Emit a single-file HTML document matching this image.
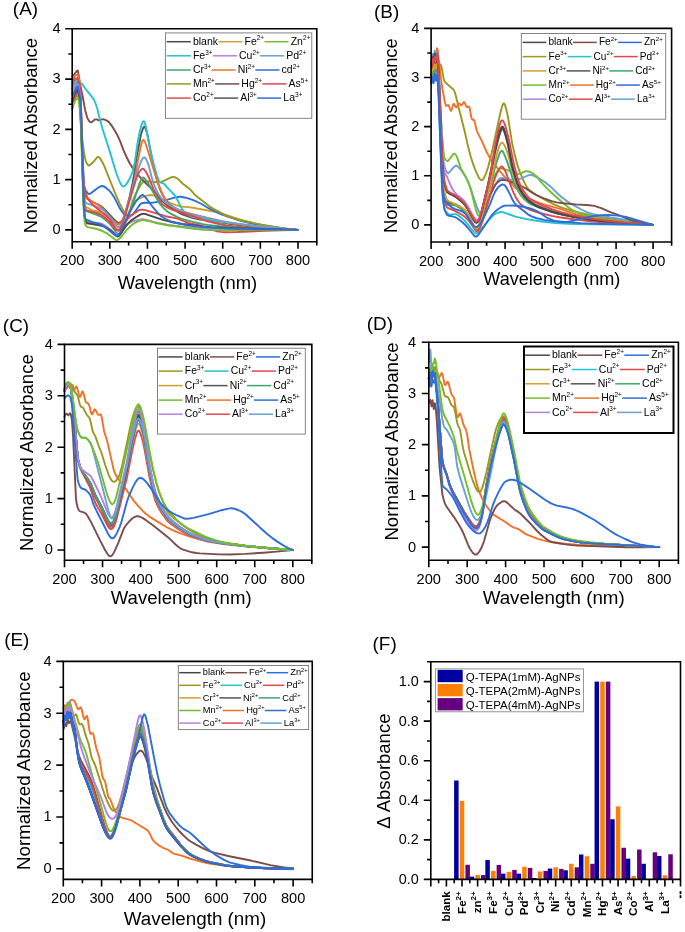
<!DOCTYPE html><html><head><meta charset="utf-8"><style>html,body{margin:0;padding:0;background:#fff;}svg{display:block;will-change:transform}</style></head><body>
<svg width="685" height="932" viewBox="0 0 685 932" style="font-family:&quot;Liberation Sans&quot;,sans-serif" fill="#000">
<rect width="685" height="932" fill="#fff"/>
<g fill="none" stroke-width="1.9" stroke-linejoin="round" stroke-linecap="round"><path d="M72.2,104.2l1.5-4 1.3-2.7 1.2-1.4 1.5-1 .5 .8 .6 2 1.1 7.2 .4 3.9 .6 12.2 2.4 72.8 .4 5.7 .5 3.5 .6 2.1 .4 .8 1.1 .9 5.1 2.8 1.9 .7 4.1 .9 3.6 1.1 2.8 1.2 2.3 1.2 2.6 2.2 6.6 6.9 2.2 1.9 1.5 .5 1.4-.3 1.5-1.1 1.3-1.5 3.9-6.9 5.9-11.7 1.3-2.2 1.3-1.6 2.6-2 3.1-1.5 6.3-2.2 2.9-.4 2 .3 2.7 .8 5.6 2.4 9 4.3 6.1 2.3 3.9 1.1 3.2 .6 5.9 .3 3.7 .6 22.4 4.1 7.2 1.9 22.2 7.2 13.3 3.2 8.3 1.5 14.9 2.3 9.2 1.2 7.9 .8" stroke="#d3a02d"/>
<path d="M72.2,89.1l1.5-5 1.1-2.9 1.4-2 1.5-1.2 .5 .6 .6 1.9 1.1 7 .4 3.9 .4 7.9 2.8 82.4 .7 9.1 .6 4 .4 1.6 1.1 1.5 1 .8 5.6 3.3 6.2 3 3 2 2.8 2.6 10 10.7 2.5 2.1 1.1 .5 1.1-.1 1.1-.6 1.2-1.2 .9-1.5 1-2.1 2-6.5 3.8-14.2 3-13.8 1.5-8.3 3.6-23 2.8-14.6 .9-3.9 1.4-4.1 .7-1.6 .4-.5 .4-.1 .5 .4 .8 1.4 1.5 4.6 1.1 5.2 2.8 15.2 4.2 19.5 2 7.8 3.1 9 2.2 4.8 2.8 4.5 2.3 3.1 2.2 2.3 6.6 5 2.5 1.5 2.2 1.1 5.3 2.1 4.3 1.5 12.3 3.1 10.9 2 15.2 2.3 24.7 3 25.4 2.4 18.8 1.3" stroke="#555555"/>
<path d="M72.2,94.2l1.3-4.5 1.1-3.1 1.2-2.1 1.1-1.4 .8-.6 .3 .4 .6 1.5 .6 2.8 .9 7 .6 9.2 2.8 76.6 .7 5.7 1 3.7 .5 1.1 2.1 2.7 .8 .7 .7 .2 1.2-.6 7.9-5.9 1.8-1.1 1.9-.5 1 .2 1.1 .4 1.9 1.3 2.6 2.2 1.5 1.6 1.7 2.1 3 4.8 4.9 9.7 2.6 4 1.2 1.2 1.1 .9 1.3 .6 1.5 .4 1.5 .1 1.3-.1 1.5-.4 1-.7 3-3.8 3.8-5.5 1.1-1.2 .9-.5 3-.5 6.2 0 2.5-.2 12.4-2.4 10.5-3 2.9-.4 2 0 4.4 .9 4.9 1.4 3.5 1.3 6.8 3.1 8.7 5.2 8.6 4.2 4 1.6 7.3 2.7 11.3 3.6 11.5 2.7 12.4 2.4 20.3 2.8 13.2 1.2" stroke="#2d6fd9"/>
<path d="M72.2,101.7l3.8-13.5 .5-1.3 .4-.3 .6 1.4 .7 4.9 1 8.1 1.8 26.2 1.7 16.8 2.1 13.1 .8 3.4 .5 1.5 1.7 2.9 .6 .6 .5 .1 1.7-1.1 2.7-2.5 3-3.7 1.1-1.1 .6-.3 .5 .1 .6 .3 .8 .7 2.6 4.4 1.7 3.4 10.7 26.9 4.5 10.4 4 7.6 1.5 2.2 1.3 1.3 .8 .2 .7-.2 .6-.6 .7-1.1 1.3-3.4 2.5-8.2 2.2-5.5 1.9-3.8 3.8-6.5 1.1-1.7 1.1-1.3 1-.5 3.4-.1 4.5 .2 6 .5 2.3-.1 2.6-.8 8.5-4 1.3-.4 .9-.1 2.1 .7 2.8 1.7 4.3 4.3 7.4 5.7 4.3 4.9 1.7 1.6 13 10.4 4.5 2.8 9.8 5.3 4.3 2.1 4.5 1.6 6.6 1.9 23.2 5 20.5 3.3 15.6 1.8" stroke="#999920"/>
<path d="M72.2,76.6l2.4-2.8 2.3-2.9 .8-.4 .3 .6 1.7 10.5 3.4 17.1 1.9 10.7 2.1 7.9 .7 1.7 1.3 1.9 1 1.1 .9 .4 1-.5 2.2-1.9 1.1-.6 1.2 0 2 .8 1 .1 2.6-.9 1.1-.1 1.5 .3 2.1 1 1.1 .7 1.4 1.2 3 4.1 4.7 7.8 3.2 7 3.7 9.8 2.9 6.3 3 6 2.6 4.1 3.6 4.7 3.9 4.7 4.9 5.2 10.4 10.2 7.9 9.4 2.4 2.3 3.8 2.8 5.8 3.6 6 3.3 3 1.4 8.1 2.6 6.8 1.6 3.6 .5 7.7 .5 19 3.3 22.6 2.9 27.1 2.3 19 1" stroke="#7d4d49"/>
<path d="M72.2,91.7l2.4-5.5 1.7-4.7 .6-.8 .6 0 2 1.8 2.1 .9 .9 .8 3.4 5.2 6.2 7.7 1.9 2.8 1.5 3.4 1.9 5.7 2.6 10.8 2.5 8.9 7.3 22.9 6.2 20.6 2.1 5.8 1.9 4.5 1.3 2.3 1.3 1.4 1 .3 .9-.4 1.1-.9 1.2-1.5 3.4-6.2 2.4-5.9 1.9-7.3 3.2-22.3 2-10.2 1.4-5.4 .9-3 .9-1.8 .4-.3 .4-.1 .6 .5 .3 .8 1.2 3.9 3.5 19.3 4.2 17.9 3.4 11.9 1.7 4.6 .7 1.3 1 .9 2.8 1 1.1 .7 5.3 5.9 4.5 4.6 1.5 2.1 1.7 2.9 4.9 9.8 2.6 2.9 2.6 2.2 3.1 1.6 7.5 2 13.5 2.6 9.1 1.5 26.7 3 50.8 4.8" stroke="#23c5cc"/>
<path d="M72.2,81.6l1.5-3.4 1.3-2.2 1.2-.9 1.5-.5 .5 .9 .6 2.2 1.3 8.9 .9 19.5 2.5 75.6 .7 8.4 1 5.1 .9 2.3 .6 .9 11.8 6.9 3.4 2.5 1.9 1.9 4.5 5.4 3 3.3 3.4 3.4 2.3 1.8 1.1 .5 1.1 .1 1.2-.5 .9-.8 1.7-2.7 1.9-5 6-19.6 1.9-7 1.5-7.3 3.2-19 3-14.8 1.5-5.7 .8-1.5 .5-.4 .4 .2 .6 .6 1.3 3 3.2 9.8 5.1 17 3 9.3 2.2 6.4 3.6 8.7 1.9 3.6 3.7 4.9 2.1 1.9 4 2.4 3.2 1.7 2.8 1.3 7.3 2.2 16 4 17.7 4.2 7.3 1.5 14.5 2.3 13.8 1.6 25 2.4 16 1" stroke="#f17226"/>
<path d="M72.2,86.6l1.5-3.3 1.3-2.3 1.2-1.1 1.5-.8 .5 .9 .6 2.3 1.3 9.4 .9 19.5 2.5 75.3 .7 9.6 .6 4.3 .4 1.5 .9 1.1 1 .7 5 1.5 5.3 1.9 3.6 1.7 2.1 1.3 2.8 2.6 3.7 4.3 2.9 3.5 3.7 5.4 1.5 1.4 1.2 .4 1.1-.7 1.1-1.6 1.3-3 3.2-9.8 7.9-28.5 3.6-11.8 2.8-7.9 1.5-3.6 1.5-2.6 .8-.7 .6-.1 .7 .3 .8 1 1.8 3.8 1.4 4.1 2.8 11.2 1.1 3.8 3.2 8.1 2.5 4.7 3.5 4.9 2.9 2.8 5.8 3.6 8.3 4.1 5.2 2.3 7.6 2.2 20.5 5 9.8 2 15.6 2.3 16.3 2.1 26.4 2.8 17.5 1.4" stroke="#6b9fd6"/>
<path d="M72.2,109.3l2.6-10.7 1.4-4 1.3-2.9 .3-.4 .6 .8 .9 4.2 .8 5.4 .6 8.7 2.8 72.3 .4 3.1 .5 2.7 2.5 7.8 2.2 4.1 2.9 3.6 2.4 2.2 10.5 8.5 4.2 3.9 2.2 3 4.2 6.7 .9 1.1 1 .7 1.1 .1 .9-.6 1.2-1.5 1.3-2.7 2.2-6.6 9.1-30.6 3.5-10.7 1.5-3.7 1.4-2.3 1.7-2.1 .7-.5 .6-.2 .9 .3 1.1 1.1 1.4 1.9 1.6 3 1.4 2.8 4.1 10.6 4.5 9.1 2.7 4.4 1.6 2 2.5 1.8 3.6 2.2 3.5 1.6 3.4 1.1 11.1 3 15.6 5.8 5.9 1.9 10.7 2.5 9.8 1.9 9 1.1 20.9 1.6 24.5 1.1 15.6 .4" stroke="#e4474a"/>
<path d="M72.2,94.2l1.5-4 1.3-2.7 1.3-1.6 1.4-.8 .5 1.3 .6 2.7 1.3 10.1 .6 8.9 .5 14.5 2.3 74 .7 8.9 .8 4.6 .4 .7 12.2 4.4 3.8 1.7 2.4 1.5 3 2.5 3 2.9 1.9 2.4 4 5.6 1.1 1.3 1.1 .9 1.3 .3 1.4-.6 1.3-1.6 1.3-2.6 11.1-29.8 4.9-15.7 2.4-5.2 .8-.9 .7-.4 .8 .3 .9 .8 2.7 3.5 2.2 3.8 8.9 16 1.5 2.2 3 3.5 3.4 3.2 3.3 2.4 7.2 3.6 5.6 2.3 11.9 3.2 8.3 1.8 4.7 .8 17.3 1.8 13.3 1 25.6 1.2 18.9 .7 15.4 .3" stroke="#3ba96b"/>
<path d="M72.2,84.1l1.5-3.5 1.1-1.7 .6-.4 .6-.1 1.7 .3 .5 .9 .6 1.9 1.3 7.6 .4 5.3 .5 14.7 2.5 82.1 .7 10.6 .6 4.8 .4 1.8 1.1 1.5 .8 .7 4.9 1 4.7 1.4 3.7 1.5 2.3 1.2 2.4 2 4.4 4.3 5.2 6.4 1.9 1.8 .9 .4 1 .1 .9-.4 1.2-1 1.6-2.1 4.4-7 2-2.3 2.7-2.4 2-1.6 4.9-3.2 1.7-.8 1.5-.3 2.7 .3 3 .7 18.4 5.6 11.3 2.2 2.6 .9 6.3 2.7 2.6 1 2.8 .7 8.5 1.5 2.6 .9 8.3 3.5 6 1.6 4.2 .7 3.5 .3 13.2-.2 26.7-1.1 33.9-1" stroke="#e4474a"/>
<path d="M72.2,94.2l1.5-5.2 1.1-2.7 1.2-1.5 .9-.5 .8-.1 .5 1.1 .6 2.4 1.3 9 .6 9 .5 15.3 2.5 83.8 .7 9.6 .6 4.2 .4 1.2 1.5 1.9 12 1.6 2.5 .5 1.5 .5 2.4 1.4 3.8 2.7 6.2 5.3 1.1 .6 1.1 .3 1.4-.3 1.3-1 1.7-1.9 3.9-5.4 1.5-1.5 1.9-1.3 2.3-1.3 2.2-.9 5.3-1.4 3-.3 3.4 .4 9 2.5 14.9 3.1 13 1.5 13.3 1.2 21.5 .8 33.8 .9 24.7 .3 22.4-.1" stroke="#b680e1"/>
<path d="M72.2,101.7l1.3-4.4 1.3-3.6 1.4-2.2 1.5-1.4 .5 .8 .6 2.1 1.3 8.7 .9 19.2 2.7 81.4 .7 10.7 .6 5.2 .4 1.6 .5 1.4 1.2 2.1 13.9 2.2 2.6 .8 2.8 1.5 4 2.5 2.6 2.3 3 3.2 .8 .5 .7 .2 1.2-.4 1.3-1.3 5.8-8.6 2.3-2.8 2.1-2.1 2.6-2.1 6.6-4.1 1.9-.9 1.6-.4 1.5 .1 1.9 .4 15.8 5.4 7.9 2 12.3 2.3 18 2.3 10.6 .8 23.1 1 40.5 1.3 23.5 .5" stroke="#474747"/>
<path d="M72.2,106.7l2.8-5.6 1.3-1.8 1.4-1.2 .5 .7 .6 1.9 1.1 7 .4 3.7 .6 12.7 2.2 72.4 .6 13.3 .7 9.5 .6 4.4 .4 1.2 1.3 1.5 .9 .7 8.5 1.7 3.8 1.2 3.2 1.3 3.7 2 7.5 5.8 1.4 .7 1.1 .3 1.3-.4 1.7-1.4 2.1-2.3 5.2-6.5 2.9-2.8 2.6-2.3 1.9-1.2 4.3-2 2.3-.8 2-.3 1.5 .1 2.9 .5 10.7 2.8 10.3 1.8 25.2 3.5 10.2 1.1 6 .2 88.1-.2" stroke="#72bf2b"/>
<path d="M72.2,99.2l1.5-4.9 1.3-3.6 1.3-2.5 1.4-1.7 .5 1 .6 2.4 1.3 9.3 .6 8.5 .7 20 2.3 77.1 .7 9.1 .6 4 .4 .9 1.1 .7 6 2.6 6.6 1.8 2.8 1.1 4 2.7 8.8 7.3 1.5 .7 1.2-.2 .7-.5 .9-1 1.7-2.7 8.9-18.6 2.4-4.7 2.7-4.5 2.2-3.4 2.8-3.3 1.6-1.4 1.3-.4 1.1 .4 1.3 1.2 8.3 11.1 5.1 5.9 3 2.9 4.3 2.5 4.7 2.1 3.4 1.2 7.3 1.7 6.4 1.2 13 1.6 6.2 .5 14.5 .8 15.1 .6 19.3 .5 42.4 .7" stroke="#2d6fd9"/></g>
<path d="M72.20,28.82H316.80V241.80H72.20Z" fill="none" stroke="#000" stroke-width="1.6" stroke-linejoin="miter"/>
<path d="M72.20,241.80v7.0M91.02,241.80v3.8M109.83,241.80v7.0M128.65,241.80v3.8M147.46,241.80v7.0M166.28,241.80v3.8M185.09,241.80v7.0M203.91,241.80v3.8M222.72,241.80v7.0M241.54,241.80v3.8M260.35,241.80v7.0M279.17,241.80v3.8M297.98,241.80v7.0M316.80,241.80v3.8M72.20,229.90h-7.0M72.20,204.77h-3.8M72.20,179.63h-7.0M72.20,154.50h-3.8M72.20,129.36h-7.0M72.20,104.22h-3.8M72.20,79.09h-7.0M72.20,53.95h-3.8M72.20,28.82h-7.0" stroke="#000" stroke-width="1.6" fill="none"/>
<text x="72.20" y="265.40" text-anchor="middle" font-size="14.6">200</text>
<text x="109.83" y="265.40" text-anchor="middle" font-size="14.6">300</text>
<text x="147.46" y="265.40" text-anchor="middle" font-size="14.6">400</text>
<text x="185.09" y="265.40" text-anchor="middle" font-size="14.6">500</text>
<text x="222.72" y="265.40" text-anchor="middle" font-size="14.6">600</text>
<text x="260.35" y="265.40" text-anchor="middle" font-size="14.6">700</text>
<text x="297.98" y="265.40" text-anchor="middle" font-size="14.6">800</text>
<text x="60.50" y="234.30" text-anchor="end" font-size="14.6">0</text>
<text x="60.50" y="184.03" text-anchor="end" font-size="14.6">1</text>
<text x="60.50" y="133.76" text-anchor="end" font-size="14.6">2</text>
<text x="60.50" y="83.49" text-anchor="end" font-size="14.6">3</text>
<text x="60.50" y="33.22" text-anchor="end" font-size="14.6">4</text>
<text x="187.50" y="288.70" text-anchor="middle" font-size="18.4">Wavelength (nm)</text>
<text transform="translate(37.10,135.60) rotate(-90)" text-anchor="middle" font-size="18.4">Normalized Absorbance</text>
<text x="12.85" y="14.6" font-size="18.9">(A)</text>
<rect x="165.40" y="32.90" width="146.40" height="85.40" fill="#fff" stroke="#777" stroke-width="0.9"/>
<line x1="166.70" y1="41.70" x2="190.80" y2="41.70" stroke="#474747" stroke-width="1.5"/>
<text x="192.90" y="44.85" font-size="10.5">blank</text>
<line x1="218.35" y1="41.70" x2="242.45" y2="41.70" stroke="#d3a02d" stroke-width="1.5"/>
<text x="244.55" y="44.85" font-size="10.5">Fe</text>
<text x="256.81" y="40.44" font-size="6.41">2+</text>
<line x1="264.46" y1="41.70" x2="288.56" y2="41.70" stroke="#72bf2b" stroke-width="1.5"/>
<text x="290.66" y="44.85" font-size="10.5">Zn</text>
<text x="302.91" y="40.44" font-size="6.41">2+</text>
<line x1="166.70" y1="55.80" x2="190.80" y2="55.80" stroke="#23c5cc" stroke-width="1.5"/>
<text x="192.90" y="58.95" font-size="10.5">Fe</text>
<text x="205.15" y="54.54" font-size="6.41">3+</text>
<line x1="212.81" y1="55.80" x2="236.91" y2="55.80" stroke="#b680e1" stroke-width="1.5"/>
<text x="239.01" y="58.95" font-size="10.5">Cu</text>
<text x="252.43" y="54.54" font-size="6.41">2+</text>
<line x1="260.08" y1="55.80" x2="284.18" y2="55.80" stroke="#6b9fd6" stroke-width="1.5"/>
<text x="286.28" y="58.95" font-size="10.5">Pd</text>
<text x="299.12" y="54.54" font-size="6.41">2+</text>
<line x1="166.70" y1="70.00" x2="190.80" y2="70.00" stroke="#3ba96b" stroke-width="1.5"/>
<text x="192.90" y="73.15" font-size="10.5">Cr</text>
<text x="203.98" y="68.74" font-size="6.41">3+</text>
<line x1="211.63" y1="70.00" x2="235.73" y2="70.00" stroke="#f17226" stroke-width="1.5"/>
<text x="237.83" y="73.15" font-size="10.5">Ni</text>
<text x="247.75" y="68.74" font-size="6.41">2+</text>
<line x1="255.40" y1="70.00" x2="279.50" y2="70.00" stroke="#2d6fd9" stroke-width="1.5"/>
<text x="281.60" y="73.15" font-size="10.5">cd</text>
<text x="292.69" y="68.74" font-size="6.41">2+</text>
<line x1="166.70" y1="83.90" x2="190.80" y2="83.90" stroke="#999920" stroke-width="1.5"/>
<text x="192.90" y="87.05" font-size="10.5">Mn</text>
<text x="207.49" y="82.64" font-size="6.41">2+</text>
<line x1="215.14" y1="83.90" x2="239.24" y2="83.90" stroke="#7d4d49" stroke-width="1.5"/>
<text x="241.34" y="87.05" font-size="10.5">Hg</text>
<text x="254.76" y="82.64" font-size="6.41">2+</text>
<line x1="262.41" y1="83.90" x2="286.51" y2="83.90" stroke="#e4474a" stroke-width="1.5"/>
<text x="288.61" y="87.05" font-size="10.5">As</text>
<text x="300.87" y="82.64" font-size="6.41">5+</text>
<line x1="166.70" y1="98.10" x2="190.80" y2="98.10" stroke="#e4474a" stroke-width="1.5"/>
<text x="192.90" y="101.25" font-size="10.5">Co</text>
<text x="206.32" y="96.84" font-size="6.41">2+</text>
<line x1="213.98" y1="98.10" x2="238.08" y2="98.10" stroke="#555555" stroke-width="1.5"/>
<text x="240.18" y="101.25" font-size="10.5">Al</text>
<text x="249.51" y="96.84" font-size="6.41">3+</text>
<line x1="257.16" y1="98.10" x2="281.26" y2="98.10" stroke="#2d6fd9" stroke-width="1.5"/>
<text x="283.36" y="101.25" font-size="10.5">La</text>
<text x="295.04" y="96.84" font-size="6.41">3+</text>
<g fill="none" stroke-width="1.9" stroke-linejoin="round" stroke-linecap="round"><path d="M431.1,72.6l.2 1.1 .2 .1 1.1-8.4 .2-.2 .7 1.6 .2-.2 1.1-8.4 1.1 3.4 .7-1.7 .4-.3 1.7 3.5 1.8 1.7 .8 1.4 .7 3.2 1.7 9.3 .7 2.3 2.4 2.8 6.3 5.4 1.3 1.8 1.3 4.3 1.9 8 7.4 29.4 3.7 16.4 2 7.5 2.6 8.1 2.6 6.7 2.7 5.8 1.2 1.7 .9 1 .7 .3 .8-.1 .7-.6 .9-1.3 1.9-3.9 2.4-7.1 2.8-10.6 9.6-44.4 1.8-6.4 .9-2 .6-.4 .6 .4 .7 1.5 2 7.4 1.3 6.9 3.7 23.5 3 13 2.6 9.8 2.2 6.5 4.4 10 2.8 5 1.3 1.7 1.1 1.1 4.6 3.4 5 3.1 14.3 7.4 7 3 11.5 3.7 6.8 1.7 10.4 2.4 20.3 3.8 22.4 3.5 21.3 2.7" stroke="#999920"/>
<path d="M431.1,62.8l.4 1.5 1.1-7.7 .2 .1 .7 2 .2 0 .9-3.4 .2-.5 .2 .1 .9 3.4 .9-9.3 .2-.7 .2 .2 .4 1.2 .5 3.5 2.4 22 1.5 10.9 2.6 15 1.1 4.2 .4 .5 .4 .1 1.4-1 .6 .3 .5 1 1.3 3.6 .8 1 .5-.8 1.5-5.3 .6-.9 .5 .4 1.5 2.9 .6 .3 .5-.7 1.3-2.5 .6-.7 .3-.1 .4 .1 1.5 1.6 .5 .2 .6-.4 1.5-2.5 .5-.3 .8 .8 1.4 3.4 .6 .8 .6 0 1.3-.6 .5 .3 .6 1.7 1.4 8.3 .6 2.1 .6 .8 1.2 .1 .6 .5 .7 2.3 1.7 7.4 .8 2.1 4 8.1 5.9 13.1 2.8 5.1 2.1 2.9 7.5 9.7 4.1 4.8 14.1 14.2 2.2 2 4.2 3.2 3.6 2.5 3.3 2 2.8 1.3 3.1 1.2 6.7 2.1 16.2 4.6 16.3 5.4 9.1 2.3 11.1 2.2 19.4 2.8 22.2 2.2 15 1.1" stroke="#f17226"/>
<path d="M431.1,60.3l.4 1.8 1.1-8.1 .2 0 .7 2.8 .2 0 1.1-6.2 1.1 5 .2 0 .9-3.4 .4 1.6 1.3 18.3 3.7 76.7 1.3 13.1 .5 3.3 1.1 4.1 .4 .9 1.5 2.3 .6 .6 .5 .1 1.1-.9 2.6-3.3 2.2-2.2 1.3-.9 .9-.2 .8 .3 .9 .7 3.7 4.2 3.5 5.3 3 5.9 2 5.3 3.9 11.8 2.8 7.8 2 4.9 1.3 1.9 .6 .2 .3-.1 .6-.4 .5-.9 4.1-10.2 3.9-8.1 7.2-12.9 1.3-1.9 1.1-1.1 1.1-.5 1.5 .1 5.6 1.5 1.8 .3 6.5-.4 4.6-.8 6.7-3.1 1.5-.4 1.4-.1 1.9 .3 2.2 .9 8.1 4.5 3.2 2.2 3.7 3 3.3 2.9 4.5 4.8 4.6 3.8 4.4 3.4 3.9 2.6 3.9 2.3 8.1 4.3 5 2.3 4.6 1.6 9.1 1.9 9.6 1.7 19.5 3 22.9 4.4" stroke="#6b9fd6"/>
<path d="M431.1,70.2l.4 1.3 1.1-6.5 .2-.1 .7 1.6 .2-.1 1.1-6.1 1.1 5.2 .4-.9 .7-3.2 .2 .1 .4 1.5 .5 4.7 .6 7.6 1.5 28.5 1.8 30.3 1.5 17.9 .7 5.4 .6 1.1 1.3 1.7 .9 .7 .8 .1 .7-.5 .7-.8 3-4.3 1.3-1.4 .7-.3 .6 .1 1.1 1.1 1.5 3.3 3.7 10.4 5.5 10 2.4 5.4 2.1 6.6 5 20.1 1.3 3.3 .5 1 .7 .7 1 .3 1.1-.7 1.1-1.6 .9-2.1 7-24.4 1.9-5.6 1.3-3.2 2.8-4.9 2-3 1.7-1.6 .9-.4 .7-.1 5.2 1.3 5 1.8 4.8 2 2.4 .6 1.9-.2 4-2.2 1.7-.5 2.6 .3 3 1.2 2.5 1.7 3.4 2.7 2.9 4.3 6.7 7.2 5.7 5.4 13.5 11.8 2.8 2.1 2.6 1.7 5.7 2.9 5 2.1 3.4 1.1 3.1 .8 16.1 2.9 48.1 5.5" stroke="#72bf2b"/>
<path d="M431.1,72.6l.2 .7 .2 .1 1.1-5.9 .2 0 .7 2.6 .2 0 1.1-7.4 .2 .1 .9 1.7 1.1-2.9 .4 1.4 .7 9.6 .6 10.8 3.5 91.2 1.1 14.4 .7 5.8 .6 2.6 1.7 3.6 1.1 1.3 2.4 .9 5 1 2 .6 2.2 1.2 2.3 2 3.8 4.6 3.2 4.4 2.8 4.5 3.1 6.3 1.3 1.6 .9 .1 1-.7 1.1-1.7 1.3-2.7 6.1-16.3 5.1-14.6 2.8-6.4 1.5-2.4 3-3 2-1.4 2-.5 3.2 .4 3.5 .9 4.4 1.6 4.7 1.9 6.1 2.9 8.8 5.6 3.4 1.9 9 4 6.3 2.2 4.8 1.2 6.7 .8 12.4 1.2 13.9 .8 4.6 .7 7.2 2.2 9.1 4.1 10.3 3.7 9.6 3.9 8.4 2.2 14.4 2.9" stroke="#7d4d49"/>
<path d="M431.1,77.5l.2 .5 .2 0 1.1-6 .2 .1 .7 3.1 .2 .2 1.1-6 1.1 3.3 .4-.2 .5-1.3 .2-.1 .2 .2 .6 4.1 .9 15.1 3.5 93.7 1.3 17.8 .5 5 .6 2.8 2.6 3.2 1.8 1.5 1.3 .2 3.7-.6 1.5 0 1.9 .7 2.2 1.4 2.6 2.2 3.3 3.3 7.2 9 2.4 2.5 .8 .3 .7 0 .9-.4 1-.7 10.1-12.3 5.2-5.2 1.5-1 2.4-1.1 1.9-.6 1.4-.3 1.5 .2 2.6 .7 10.2 3.8 10.1 2.3 9.3 1.6 13.1 1.8 7.6 .8 12.4 .6 22.4 .6 62.9 .6" stroke="#23c5cc"/>
<path d="M431.1,75.1l.2 .4 .2-.1 1.1-7.4 .2 .1 .7 3.6 .2 .2 1.1-6.2 1.1 5.3 .2-.1 .2-.6 .7-3.3 .2 .3 .4 2.7 .7 10.7 .6 11.9 3.3 87 1.1 14.3 .7 5.8 .6 2.6 1.7 3.9 .9 1.4 7.6 3.3 3.7 1.9 4.2 2.5 3 2.2 1.8 1.8 1.9 2.3 3.1 4.3 2.6 4 1.1 1.2 .6 .2 .6 0 1.1-1 1.4-2.4 1.5-3.4 1.7-4.8 2.4-8.1 6.7-24.9 1.6-5.5 2.2-5.9 2.1-4.5 2.2-3.4 .7-.7 .6-.3 .7 .3 .8 .7 2.2 3.8 1.5 3.6 3.5 9.9 3.1 7.6 2.2 4.6 2.6 4.3 1.9 2.5 1.5 1.4 4.4 2.8 4.1 1.9 9.6 3.2 12 2.9 8.9 1.6 13.1 1.8 18.9 2.2 17 1.4 17.6 1 25.9 1" stroke="#e4474a"/>
<path d="M431.1,77.5l.2 .8 .2 0 1.1-7.2 .2 .1 .7 3.2 .2 .1 1.1-6.7 1.1 2 .4-.3 .7-1.2 .2 .3 .4 2.4 .7 9.2 .6 10.6 3.5 87.2 1.1 12.4 .5 4 .8 3.5 1.5 4.8 .9 1.8 1.7 .5 4.6 0 2.2 .5 4.4 2.7 3.9 3.3 1.7 1.8 1.7 2.3 6.4 10.7 1 1.3 .7 .7 .6 .2 .5-.1 1.1-1.1 1.3-2.3 1.3-3.4 16.1-59 3.3-9.5 1-1.7 .9-.7 .7 .3 .8 .9 1.6 3.4 3.4 8.8 5.3 16.8 2.2 5.1 2.6 5.2 2.4 3.9 2.8 3.1 4.1 3.8 3.3 2.2 8.5 3.5 14.6 4.9 8.7 2.1 11.5 2.2 16.8 2.7 12.3 1.5 21.4 1.9 28.5 1.9" stroke="#3ba96b"/>
<path d="M431.1,72.6l.2 .8 .2 .1 1.1-5.7 .2 0 .7 2 .2 0 1.1-5.4 .2 .2 .9 3.6 .4-.9 .7-3.3 .2 .2 .4 2.2 .7 8.8 .6 10.5 3.5 87.4 .7 8.9 .8 6.2 .7 4.1 1.3 4.6 .7 2.3 .8 1.1 2.4 1.4 5.5 2.5 5.6 2.9 2.8 1.7 1.8 1.6 1.5 1.9 1.5 2.4 2.6 5 3.1 6.9 .7 1.3 .8 .7 .5 .1 .6-.2 1.1-1.2 1.5-3.2 1.5-4.3 2.2-8.1 7.4-29.1 2.2-9.2 4.4-20.3 1.5-4.8 1.3-3.4 .9-1.7 1-.6 .5 .1 .6 .4 1.1 1.4 1.3 2.6 1.8 4.6 1.7 5.5 4.8 18.8 3 8.2 2.4 5.6 2 3.7 2.8 3.3 3.5 3.5 3.1 2.2 7.4 3.1 16.9 6.1 9.2 2.5 9.8 2.1 16.1 2.7 13.2 1.6 22.2 2.1 27.9 2.2" stroke="#d3a02d"/>
<path d="M431.1,62.8l.4 1.5 1.1-8.3 .2 .1 .7 3.2 .2 .1 1.1-5.5 1.1 4.7 .4-.9 .7-3.4 .2 .2 .4 2.2 .7 8.6 .6 9.5 3.5 78.6 .9 11.6 .9 6.8 .8 1.7 2.2 3.6 3.7 9.1 2.2 4 1.9 2.5 2 2.2 5.6 4.4 2.2 2.4 2.2 3.4 6.3 11.2 1.5 2.1 1.1 1.1 .7 .4 .8 0 .7-.4 .5-.6 1.3-2.3 1.3-3.8 8-32.2 2-9.2 3.7-18.6 3.4-14.1 1.3-4.7 1.1-3.2 .9-1.7 .5-.5 .4 0 .7 .5 .8 1.4 1.8 5.8 2.1 8.1 3.1 17.4 1.1 5.2 3 10.1 2.6 7.2 2.4 4.9 5.2 7.4 3.1 3.4 4.3 2.9 3.3 2 3 1.5 11.6 4.2 5 1.5 6.1 1.5 12.4 2.8 15.7 2.6 13.5 1.6 22.1 2.1 27.7 2.2" stroke="#b680e1"/>
<path d="M431.1,62.8l.2 .6 .2 0 1.1-7 .2 .1 .7 2.9 .2 .1 1.1-6.1 1.1 4.9 .4-.8 .7-3.4 .2 .1 .4 2.1 .5 6.5 .6 10.3 3.5 89.6 1.1 13.7 .7 5.7 .6 2.8 1.7 5.5 .9 1.9 2 1.4 4.7 2.2 2 1.2 5.5 4.4 3.4 3.4 2.4 3.5 6.4 11.7 1 1.4 .9 1 .7 .3 .6 0 .7-.4 .8-.8 1.5-2.9 1.2-3.9 7.4-30.8 2.6-11.8 3.9-19.4 3-12.4 1.5-5.5 1.1-3.2 1.1-2.1 .5-.5 .4-.1 .7 .6 1 1.7 2.2 7.1 1.7 6.9 4 21.7 3.2 11.1 2.8 7.9 2 4.2 2.9 4.5 2.4 3.2 3.2 3.2 4.1 2.8 3.3 2 3 1.4 12.5 4.6 8 2.1 13.3 2.7 17.6 2.8 12 1.5 21.7 1.9 29 2" stroke="#555555"/>
<path d="M431.1,65.3l.4 1.7 1.1-6.9 .2 0 .7 2 .2 0 1.1-6.6 1.1 4.3 .4-.3 .5-1.4 .2-.2 .2 .2 .6 3.3 .9 13.3 2.9 74.1 .8 14.6 .7 8.6 .9 7.4 .6 3 1.7 6.5 .7 2.1 .6 .7 2 1.4 6.1 3.4 5.6 4.4 2.9 2.8 2.8 3.9 6.6 12 1 1.4 .9 1 .7 .4 .6-.1 .7-.4 .8-.8 1.5-2.9 1.2-4 5.8-24.5 3.9-18.2 4-20.3 3-12.6 1.5-5.7 1.1-3.4 1.1-2.2 .9-.7 .8 .5 .7 1.3 1.9 5.7 2.2 8.8 4.4 22.3 3.3 12.1 2.6 7.9 2.1 4.3 2.7 4.4 2.3 3.2 2.9 3.2 3.7 2.6 3.7 2.3 3 1.5 11.5 4.2 5.1 1.6 6 1.5 13.1 2.9 15.7 2.6 12.6 1.5 21.8 1.9 28.7 2" stroke="#474747"/>
<path d="M431.1,67.7l.2 .8 .2-.1 1.1-8.9 .2 .1 .7 3.5 .2 .1 1.1-6.6 .2 .1 .9 3.3 1.1-5.2 .2 0 .4 2 .7 8.6 .6 10.4 3.5 87.5 .7 8.9 .8 6.2 .7 4.1 1.3 4.6 .7 2.3 .8 1.3 2 1.4 6.3 3.4 5.4 4.2 3.1 3.1 2.6 3.6 6.5 11.7 1.3 1.9 1.1 1.1 .7 .3 .8 0 .7-.5 .6-.7 1.3-2.6 1.4-4.8 3.4-13.9 3.7-14.4 1.8-8.2 1.5-8.3 3.5-22.8 3-14.2 1.1-4.6 1.1-3.5 .9-1.9 .6-.6 .3-.1 1 .6 1.1 2 1.3 3.6 1.6 5.7 1.9 8 5.2 25.6 2.4 8.7 2.4 7.4 2 4.9 3 4.7 3.5 4.7 1.7 1.7 1.4 1.2 4.7 2.8 4.2 2.2 12.2 5 4.5 1.6 5.5 1.6 11.9 3 17.9 3.3 17.8 2.4 18.1 1.9 15 1.3 10.7 .7" stroke="#e4474a"/>
<path d="M431.1,80.0l.4 2.9 1.1-6 .9 3.5 .2 .2 1.1-6.9 1.1 2.9 .4-.3 .7-1.6 .2 .3 .4 2.7 1.1 18.3 1.5 40.9 1.8 43.5 .9 10.8 .8 5 .7 3.3 .9 1.7 1.7 2.2 4.4 3.7 3.2 1.7 7.4 2.6 1.7 1 1.4 1.1 2.4 2.9 5 7.8 1.3 1.5 1.1 1 1.3 .4 1.3-.5 1.5-1.4 1.9-2.5 2.6-4.5 2.9-6.1 3.2-7 4-10.2 1.7-3.5 2-3 2.1-2.2 1.6-1.3 1.7-.4 .9 .1 .9 .5 1.5 1.7 3.4 6.3 3.7 7.7 1.1 1.8 1.8 2.1 2.4 2.1 9.5 7.5 4.2 2.3 3.9 1.4 8.1 1.9 5.8 .9 31.2 2.3 14.3 .7 23.7 .6 34 .5" stroke="#2d6fd9"/>
<path d="M431.1,82.5l.4 1.1 1.1-6.2 1.1 5.7 1.1-7 1.1 4.5 .4-.5 .7-2.4 .2 .2 .4 2.5 .5 7 .6 11.2 1.5 43 1.8 45.4 .4 6.2 .7 7.5 .8 5.5 .7 3.5 1.7 4 .9 1.4 1.8 .7 4.3 .8 1.9 .6 2.2 1.3 3.1 2.3 3 2.5 2.4 2.3 3.3 3.9 4.3 5.5 1.3 1.3 .9 .4 .7-.2 1-.6 .9-1 3.3-4.6 9.4-14.1 1.9-2.4 1.7-1.7 3.7-3.1 4-2.5 1.7-.7 2.6-.2 5.7-.1 6.1 .5 5.9 1 5.8 1.5 4.4 1.5 3.3 1.5 2.4 1.5 5.2 3.7 2.6 1.5 6.1 2.6 2.4 .7 2.1 .4 4.8 .4 4-.3 3.4-.7 7.9-2.2 12.4-2.6 10.4-1.4 6.6-.2 9.9 .7 8.1 1.4 27 7.9" stroke="#2d6fd9"/></g>
<path d="M431.10,28.42H671.60V242.00H431.10Z" fill="none" stroke="#000" stroke-width="1.6" stroke-linejoin="miter"/>
<path d="M431.10,242.00v7.0M449.60,242.00v3.8M468.10,242.00v7.0M486.60,242.00v3.8M505.10,242.00v7.0M523.60,242.00v3.8M542.10,242.00v7.0M560.60,242.00v3.8M579.10,242.00v7.0M597.60,242.00v3.8M616.10,242.00v7.0M634.60,242.00v3.8M653.10,242.00v7.0M671.60,242.00v3.8M431.10,224.90h-7.0M431.10,200.34h-3.8M431.10,175.78h-7.0M431.10,151.22h-3.8M431.10,126.66h-7.0M431.10,102.10h-3.8M431.10,77.54h-7.0M431.10,52.98h-3.8M431.10,28.42h-7.0" stroke="#000" stroke-width="1.6" fill="none"/>
<text x="431.10" y="265.60" text-anchor="middle" font-size="14.6">200</text>
<text x="468.10" y="265.60" text-anchor="middle" font-size="14.6">300</text>
<text x="505.10" y="265.60" text-anchor="middle" font-size="14.6">400</text>
<text x="542.10" y="265.60" text-anchor="middle" font-size="14.6">500</text>
<text x="579.10" y="265.60" text-anchor="middle" font-size="14.6">600</text>
<text x="616.10" y="265.60" text-anchor="middle" font-size="14.6">700</text>
<text x="653.10" y="265.60" text-anchor="middle" font-size="14.6">800</text>
<text x="419.40" y="229.30" text-anchor="end" font-size="14.6">0</text>
<text x="419.40" y="180.18" text-anchor="end" font-size="14.6">1</text>
<text x="419.40" y="131.06" text-anchor="end" font-size="14.6">2</text>
<text x="419.40" y="81.94" text-anchor="end" font-size="14.6">3</text>
<text x="419.40" y="32.82" text-anchor="end" font-size="14.6">4</text>
<text x="551.80" y="284.50" text-anchor="middle" font-size="18.1">Wavelength (nm)</text>
<text transform="translate(396.90,135.60) rotate(-90)" text-anchor="middle" font-size="18.33">Normalized Absorbance</text>
<text x="374.05" y="17.8" font-size="18.9">(B)</text>
<rect x="521.30" y="33.50" width="144.40" height="85.70" fill="#fff" stroke="#777" stroke-width="0.9"/>
<line x1="522.60" y1="42.40" x2="546.40" y2="42.40" stroke="#474747" stroke-width="1.5"/>
<text x="548.50" y="45.43" font-size="10.1">blank</text>
<line x1="573.00" y1="42.40" x2="596.80" y2="42.40" stroke="#7d4d49" stroke-width="1.5"/>
<text x="598.90" y="45.43" font-size="10.1">Fe</text>
<text x="610.68" y="41.19" font-size="6.16">2+</text>
<line x1="618.06" y1="42.40" x2="641.86" y2="42.40" stroke="#2d6fd9" stroke-width="1.5"/>
<text x="643.96" y="45.43" font-size="10.1">Zn</text>
<text x="655.74" y="41.19" font-size="6.16">2+</text>
<line x1="522.60" y1="56.60" x2="546.40" y2="56.60" stroke="#999920" stroke-width="1.5"/>
<text x="548.50" y="59.63" font-size="10.1">Fe</text>
<text x="560.29" y="55.39" font-size="6.16">3+</text>
<line x1="567.66" y1="56.60" x2="591.46" y2="56.60" stroke="#23c5cc" stroke-width="1.5"/>
<text x="593.56" y="59.63" font-size="10.1">Cu</text>
<text x="606.47" y="55.39" font-size="6.16">2+</text>
<line x1="613.85" y1="56.60" x2="637.65" y2="56.60" stroke="#e4474a" stroke-width="1.5"/>
<text x="639.75" y="59.63" font-size="10.1">Pd</text>
<text x="652.10" y="55.39" font-size="6.16">2+</text>
<line x1="522.60" y1="70.90" x2="546.40" y2="70.90" stroke="#d3a02d" stroke-width="1.5"/>
<text x="548.50" y="73.93" font-size="10.1">Cr</text>
<text x="559.16" y="69.69" font-size="6.16">3+</text>
<line x1="566.53" y1="70.90" x2="590.33" y2="70.90" stroke="#555555" stroke-width="1.5"/>
<text x="592.43" y="73.93" font-size="10.1">Ni</text>
<text x="601.97" y="69.69" font-size="6.16">2+</text>
<line x1="609.34" y1="70.90" x2="633.14" y2="70.90" stroke="#3ba96b" stroke-width="1.5"/>
<text x="635.24" y="73.93" font-size="10.1">Cd</text>
<text x="648.16" y="69.69" font-size="6.16">2+</text>
<line x1="522.60" y1="85.10" x2="546.40" y2="85.10" stroke="#72bf2b" stroke-width="1.5"/>
<text x="548.50" y="88.13" font-size="10.1">Mn</text>
<text x="562.53" y="83.89" font-size="6.16">2+</text>
<line x1="569.91" y1="85.10" x2="593.71" y2="85.10" stroke="#f17226" stroke-width="1.5"/>
<text x="595.81" y="88.13" font-size="10.1">Hg</text>
<text x="608.72" y="83.89" font-size="6.16">2+</text>
<line x1="616.09" y1="85.10" x2="639.89" y2="85.10" stroke="#2d6fd9" stroke-width="1.5"/>
<text x="641.99" y="88.13" font-size="10.1">As</text>
<text x="653.78" y="83.89" font-size="6.16">5+</text>
<line x1="522.60" y1="99.20" x2="546.40" y2="99.20" stroke="#b680e1" stroke-width="1.5"/>
<text x="548.50" y="102.23" font-size="10.1">Co</text>
<text x="561.41" y="97.99" font-size="6.16">2+</text>
<line x1="568.79" y1="99.20" x2="592.59" y2="99.20" stroke="#e4474a" stroke-width="1.5"/>
<text x="594.69" y="102.23" font-size="10.1">Al</text>
<text x="603.67" y="97.99" font-size="6.16">3+</text>
<line x1="611.04" y1="99.20" x2="634.84" y2="99.20" stroke="#6b9fd6" stroke-width="1.5"/>
<text x="636.94" y="102.23" font-size="10.1">La</text>
<text x="648.17" y="97.99" font-size="6.16">3+</text>
<g fill="none" stroke-width="1.9" stroke-linejoin="round" stroke-linecap="round"><path d="M64.5,390.7l3.8-4.1 1.3-1.2 1-.5 1.3-.1 .8 .4 .2 .3 .5 3.8 .4 1 .6-.3 1.5-3.3 .4-.3 .2 0 .7 1.7 1.8 7 .7 1.8 .4 0 .4-.6 1.7-4.6 .4-.2 .4 .4 .5 1.5 2.1 8.2 .8 1.1 1.7 .6 .8 .9 .7 2.4 1.3 5.6 .8 2 .4 .2 .4-.3 1.5-3.8 .4-.7 .3-.3 .4 .2 .6 .8 1.7 3.4 .8 1.1 .5 .1 1.6-.6 .3 .1 .4 .4 .8 2.7 2.3 13.7 3 9.4 6.3 28 .8 2.8 .7 1.8 1.5 2.8 3.8 5.8 5.8 7.3 5.7 8.7 2.2 3.1 4.6 5.5 4 4.2 3.6 3.4 3.4 2.6 4.4 2.8 13.3 8.1 4.8 2.4 4.7 2 5.2 1.9 10.6 3.6 6.9 1.9 7.6 1.4 9.3 1.5 28.2 3.6 27 2.6 21.3 1.6" stroke="#f17226"/>
<path d="M64.5,390.7l1.3-3.4 1-1.8 1.7-2.2 .6-.3 .5 0 1 .8 1.3 2 2.7 5.9 2.6 3.3 .8 2 1.7 6.8 .8 2.2 .7 .9 1.6 .7 .5 .5 3.5 6.8 2.1 2.2 .7 1.3 .8 2.5 2.3 10.3 .7 1.7 2.1 3.7 3.1 9.2 2.8 6.7 3.8 12.5 3.6 10.2 1.9 3.9 1 1.3 .9 .9 1 .4 .7 .1 1-.4 .9-.8 2-2.8 1.7-4.2 1.9-6.6 2.2-9.7 5.8-28 2-9.1 2.1-7.1 1.6-4.3 1.3-2.3 .6-.4 .5 0 1 1 .9 2.3 3.3 11.8 2.4 11.2 6.9 34.4 3.8 15.5 2.7 9.1 3.8 9.3 3.4 6.5 5.7 7.5 5.3 5.7 7.4 6.1 5.4 3.7 7.4 3.9 4.9 2.4 4.6 1.9 4.2 1.3 7.8 1.9 7.4 1.4 20.6 3 27 2.7 19 1.3" stroke="#999920"/>
<path d="M64.5,416.4l1.1-1.9 .8-.7 .6 .1 1.3 1.4 .4-.2 1.1-1.8 .4-.1 .8 1.8 .9 4.7 1.2 17.3 2.8 60.4 .4 4.1 1.3 5.8 1 2.4 .9 1.3 1.4 .7 2.8 .7 1.2 .5 1.3 1.1 1.1 1.5 3.3 5.7 9.7 19.7 4.9 9.4 2.3 3.7 .9 1.2 1 .8 1.1 .2 1-.4 1.1-1.2 1.4-2.2 3.8-8.2 5.1-13.4 1.3-2.9 1.2-1.9 3.6-4.3 3.2-3.2 2.7-1.7 1.3-.5 1.2-.2 2.1 .4 3.4 1.6 3.4 2.3 6.3 4.6 16.9 13.6 7.4 7.1 3.1 2.4 1.9 1.1 2.8 1 7.3 2.1 4.2 .7 3.9 .4 19.1 1 11 .1 14.8-.6 18.5-1.2 12.9-1.1 16.4-1.6" stroke="#7d4d49"/>
<path d="M64.5,390.7l1.1-3 1-1.9 .8-.9 .9-.6 1.1 .2 .4 .4 1.2 4.1 .9 5.5 .6 4.9 5.1 56.7 .8 4.8 1.7 6.5 2.3 5.5 6.3 11.9 1.7 3.6 3.8 11.6 1.3 3.2 1.5 2.9 5 8.4 5.5 11.1 1.1 1.8 1.2 1.2 .7 .4 1 0 .9-.5 .8-.9 1.5-2.9 1.7-5.1 10.5-41.8 5.1-26.2 2.9-12.4 1.9-6.4 .9-1.7 .8-.5 .4 .2 .6 .6 .9 1.9 2.5 8.2 1.7 8.3 4.8 27.1 3.4 14.9 2.4 8.6 3.1 6.9 3.2 5.5 5.7 7.8 1.7 1.7 3.1 2.5 6.1 4.2 6.6 4 4 2.1 11.6 4.3 4.6 1.4 4.2 1.1 14.8 2.2 20.6 2.2 26 2.2 22.3 1.5" stroke="#e4474a"/>
<path d="M64.5,390.7l1.1-3 1-1.9 .8-.9 .9-.6 1.1 .2 .4 .4 1.2 4.1 .9 5.5 .6 4.9 5.1 56.7 .6 3.9 1.7 6.4 1 2.5 1.1 2.1 6.9 10 1.7 2.9 4.9 12.3 6.5 12.3 5.7 12.6 1.3 2.2 1.2 1.2 .9 .4 .8-.2 .7-.5 .8-1 1.5-3.2 1.7-5.5 10.3-42.3 5.1-27 2.9-12.7 1.9-6.6 .9-1.8 .8-.5 .4 .2 .6 .6 .9 2.1 2.5 8.6 1.7 8.8 4.8 28.8 3.4 15.7 2.4 9.1 3.1 7.2 3.2 5.9 5.7 8.2 1.7 1.9 3.1 2.7 6.1 4.4 6.6 4.2 4 2.2 11.6 4.6 4.6 1.5 4.2 1.1 14.8 2.4 20.6 2.3 26 2.3 22.3 1.6" stroke="#d3a02d"/>
<path d="M64.5,390.7l1.1-3 1-1.9 .8-.9 .9-.6 1.1 .2 .4 .4 1.2 4.1 .9 5.5 .6 4.9 5.1 56.7 .6 3.9 1.7 6.5 1 2.5 1.1 2.2 6.9 10.4 1.7 3 4.9 12.6 6.5 12.8 5.7 12.9 1.3 2.4 1.2 1.2 .9 .4 .8-.2 .7-.5 .8-1.1 1.5-3.4 1.7-5.7 10.3-44.7 5.1-28.4 2.9-13.4 1.9-7 .9-1.9 .8-.5 .4 .2 .6 .6 .9 2.1 2.5 8.9 1.7 9.1 4.8 29.5 3.4 16.2 2.4 9.3 3.1 7.5 3.2 6 5.7 8.5 1.7 1.9 3.1 2.7 6.1 4.6 6.6 4.3 4 2.3 11.6 4.7 4.6 1.5 4.2 1.1 14.8 2.5 20.6 2.4 26 2.4 22.3 1.6" stroke="#2d6fd9"/>
<path d="M64.5,390.7l1.1-3 1-1.9 .8-.9 .9-.6 1.1 .2 .4 .4 1.2 4.1 .9 5.5 .6 4.9 5.1 56.7 .6 3.9 1.7 6.4 1 2.4 1.1 2.1 6.9 9.5 1.7 2.8 4.9 12 6.5 11.9 5.7 12.2 1.1 1.9 1.2 1.2 .9 .4 .8-.1 .7-.5 .8-.9 1.5-3.1 1.7-5.5 10.5-44.9 5.1-28.1 2.9-13.3 1.9-6.8 .9-1.9 .8-.5 .4 .2 .6 .7 .9 2.1 2.5 9.1 1.7 9.2 4.8 30.2 3.4 16.6 2.4 9.5 3.1 7.6 3.2 6.2 5.7 8.6 1.7 2 3.1 2.8 6.1 4.7 6.6 4.4 4 2.3 11.6 4.8 4.6 1.6 4.2 1.1 14.8 2.6 20.6 2.4 26 2.4 22.3 1.7" stroke="#23c5cc"/>
<path d="M64.5,390.7l1.1-3 1-1.9 .8-.9 .9-.6 1.1 .2 .4 .4 1.2 4.1 .9 5.5 .6 4.9 5.1 56.7 .6 3.9 1.7 6.5 1 2.4 1.1 2.2 6.9 10 1.7 3 4.9 12.4 6.5 12.4 5.7 12.7 1.3 2.2 1.2 1.2 .9 .4 .8-.2 .7-.6 .8-1.1 1.5-3.5 1.7-5.9 10.3-45.6 5.1-29.1 2.9-13.7 1.9-7.1 .9-2 .8-.5 .4 .2 .6 .7 .9 2.1 2.5 9.2 1.7 9.3 4.8 30.5 3.4 16.7 2.4 9.6 3.1 7.7 3.2 6.2 3.6 5.7 2.1 3 1.7 2 3.1 2.8 6.1 4.7 6.6 4.4 4 2.4 11.6 4.9 4.6 1.5 4.2 1.2 14.8 2.5 20.6 2.5 26 2.4 22.3 1.7" stroke="#555555"/>
<path d="M64.5,390.7l1.1-3 1-1.9 .8-.9 .9-.6 1.1 .2 .4 .4 1.2 4.1 .9 5.5 .6 4.9 5.1 56.7 .6 3.9 1.7 6.4 1 2.5 1.1 2.1 6.9 9.7 1.7 2.8 4.9 12.2 6.5 12.1 5.7 12.4 1.3 2.2 1.2 1.1 .9 .3 .8-.2 .7-.6 .8-1 1.5-3.5 1.7-5.9 10.3-45.5 5.1-29 2.9-13.7 1.9-7.1 .9-2 .8-.4 .4 .1 .6 .7 .9 2.2 2.5 9.3 1.7 9.4 4.8 30.7 3.4 16.9 2.4 9.7 3.1 7.7 3.2 6.3 3.6 5.8 2.1 3 1.7 2 3.1 2.8 6.1 4.8 6.6 4.5 4 2.3 11.6 4.9 4.6 1.6 4.2 1.2 6.6 1.3 8.2 1.2 20.6 2.5 26 2.5 22.3 1.7" stroke="#474747"/>
<path d="M64.5,390.7l1.1-3 1-1.9 .8-.9 .9-.6 1.1 .2 .4 .4 1.2 4.1 .9 5.5 .6 4.9 5.1 56.7 .6 3.9 1.7 6.5 1 2.5 1.1 2.1 6.9 10.3 1.7 3 4.9 12.6 6.5 12.6 5.7 12.9 1.3 2.3 1.2 1.2 .9 .4 .8-.2 .7-.6 .8-1.1 1.5-3.7 1.7-6.2 10.3-47.8 5.1-30.5 2.9-14.3 1.9-7.5 .9-2.1 .4-.4 .4-.1 .4 .2 .6 .7 .9 2.2 1.2 3.9 1.3 5.6 1.7 9.6 4.8 31.4 3.4 17.2 2.4 9.9 3.1 8 3.2 6.4 3.6 5.9 2.1 3 1.7 2.1 3.1 2.9 6.1 4.9 6.6 4.5 4 2.4 11.6 5.1 4.6 1.6 4.2 1.2 6.6 1.3 8.2 1.3 20.6 2.6 26 2.5 22.3 1.7" stroke="#e4474a"/>
<path d="M64.5,390.7l1.1-3 1-1.9 .8-.9 .9-.6 1.1 .2 .4 .4 1.2 4.1 .9 5.5 .6 4.9 5.1 56.7 .6 3.9 1.7 6.4 1 2.5 1.1 2.1 6.9 9.7 1.7 2.8 4.9 12.2 6.5 12.1 5.7 12.4 1.3 2.2 1.2 1.1 .9 .3 .8-.2 .7-.6 .8-1.1 1.5-3.6 1.7-6.1 10.3-47.2 5.1-30 2.9-14.2 1.9-7.3 .9-2 .4-.4 .4-.1 .4 .1 .6 .7 .9 2.3 2.5 9.5 1.7 9.7 4.8 31.6 3.4 17.4 2.4 9.9 3.1 8 3.2 6.5 3.6 5.9 2.1 3.1 1.7 2.1 3.1 2.9 6.1 4.9 6.6 4.6 4 2.4 11.6 5.1 4.6 1.6 4.2 1.2 6.6 1.3 8.2 1.4 20.6 2.5 26 2.6 22.3 1.7" stroke="#3ba96b"/>
<path d="M64.5,390.7l1.1-3 1-1.9 .8-.9 .9-.6 1.1 .2 .4 .4 1.2 4.1 .9 5.5 .6 4.9 5.1 56.8 .6 3.8 1.5 5.4 1 2.3 .9 1.3 3.6 3 4.2 3 1.2 1.1 1.1 1.6 5.1 10.1 3.7 7.7 7.4 17.9 1.3 2.5 1.2 1.3 .7 .3 .8-.1 .7-.5 .8-1 1.5-3.5 1.7-5.9 10.3-45.4 5.1-28.9 2.9-13.7 1.9-7 .9-2 .4-.4 .4-.1 .4 .2 .6 .7 .9 2.3 1.3 4.7 1.4 5.9 1.5 8.8 4.8 32.1 3.4 17.6 2.4 10.1 3.1 8.1 3.2 6.5 3.6 6.1 2.1 3.1 1.7 2.1 3.1 3 6.1 4.9 6.6 4.7 4 2.5 5.9 2.7 5.7 2.4 4.6 1.7 4.2 1.2 6.6 1.3 8.2 1.4 20.6 2.6 26 2.5 22.3 1.8" stroke="#b680e1"/>
<path d="M64.5,388.1l1.5-4 1.2-1.5 .7-.3 1 .2 .7 .7 .6 1.2 1 3.5 .9 5 3.6 28.1 1.4 7.5 1.9 5.3 .9 1.9 .8 1.1 1.1 .8 3.2 .1 1.8 .8 1.1 1 1.3 1.7 1.2 1.7 .7 1.7 1.4 4.1 2.6 9.7 13.2 51.8 1.9 6 .7 1.5 .6 .6 .6 .2 .5-.3 1.4-2 1.5-3.9 1.7-5.7 9.3-39.7 5.2-26.5 2.1-9.2 1.5-5.9 1.3-4 1.1-2.2 .4-.3 .6-.1 .9 .9 1 1.9 1.1 3.5 1.4 5 1.7 9.2 4.6 28.9 3.6 17.5 2.2 8.8 3.1 7.7 3.4 6.5 3.4 5.4 2.3 3.2 1.7 2 3.3 2.9 5.9 4.5 6.4 4.3 4 2.4 11.6 4.9 4.6 1.5 4.2 1.2 14.8 2.5 20.6 2.5 26 2.4 22.3 1.7" stroke="#6b9fd6"/>
<path d="M64.5,388.1l1.5-4 1.2-1.5 .7-.3 .8 .2 .7 .5 .6 .9 1 3.2 .9 4.6 4.2 31.9 .8 4.2 .9 3 1.5 3.9 1.6 2.3 .5 .5 .8 .2 2.8-.1 1.4 .7 1.3 1.1 1.3 1.6 1.4 1.9 .9 1.8 5 12.8 2.4 7.2 7.3 26.1 1.7 5.6 2.1 5 .9 1.6 1 1 .6 .3 .5-.1 1.2-1.3 1.3-3 1.3-4.3 1.7-7.1 12.8-58.8 3.6-15.4 1.3-5.1 1-2.9 .9-1.7 .4-.3 .4 0 .9 1 1.2 2.7 1.7 5.8 1.1 4.6 2.1 10.6 6.3 35.7 2.5 10.9 2.7 10.2 2.2 7.2 5.4 13.5 2.6 5.2 1.2 1.7 1.5 1.6 2.8 2.4 9.7 7.5 5 3.1 11.4 5.7 6.3 2.9 4.9 1.8 7.8 2.4 5.9 1.6 5.4 1.1 17.3 2.5 27.9 2.8 18.3 1.2" stroke="#72bf2b"/>
<path d="M64.5,398.4l1.3-1.7 1.4-1.1 .9-.1 1.5 .4 .4 .6 .6 1.6 1.1 5.4 1 9.4 4.4 60.4 .5 5.9 .8 3.3 1.3 3.4 1.2 1.9 .9 .7 3.1 1 1.3 .9 2.3 2.2 1.9 2.7 .9 2.2 2.3 7.1 3.1 6.6 6 11.8 5.2 10.4 1.9 3.1 1.5 1.5 .8 .3 .5 0 1.4-.7 1.5-2 1.7-3.2 2.5-5.6 1.7-4.7 5.5-20.3 1.7-5.1 4.4-9.8 2.7-5 1.3-1.9 1.1-1.2 1.2-.8 1.1-.2 1.3 .4 1.6 .9 1.7 1.6 1.9 2.2 5.9 8 7 11.2 3.1 3.7 2.6 2.6 2.9 2.2 4 2.4 4 2.1 5.9 2.6 2.1 .8 1.7 .2 3.2-.2 4.2-.6 5.1-1.2 10.9-2.8 12.1-3.7 5.6-1.3 2.4-.5 1.7-.1 2 .2 2 .5 2.7 1 3.6 1.6 3.6 2.4 20.8 19 6.3 5.1 6.2 4.3 5.2 3.2 4.7 2.5 4.4 1.9" stroke="#2d6fd9"/></g>
<path d="M64.50,344.40H311.83V560.30H64.50Z" fill="none" stroke="#000" stroke-width="1.6" stroke-linejoin="miter"/>
<path d="M64.50,560.30v7.0M83.53,560.30v3.8M102.55,560.30v7.0M121.58,560.30v3.8M140.60,560.30v7.0M159.62,560.30v3.8M178.65,560.30v7.0M197.68,560.30v3.8M216.70,560.30v7.0M235.72,560.30v3.8M254.75,560.30v7.0M273.77,560.30v3.8M292.80,560.30v7.0M311.83,560.30v3.8M64.50,550.00h-7.0M64.50,524.30h-3.8M64.50,498.60h-7.0M64.50,472.90h-3.8M64.50,447.20h-7.0M64.50,421.50h-3.8M64.50,395.80h-7.0M64.50,370.10h-3.8M64.50,344.40h-7.0" stroke="#000" stroke-width="1.6" fill="none"/>
<text x="64.50" y="583.90" text-anchor="middle" font-size="14.6">200</text>
<text x="102.55" y="583.90" text-anchor="middle" font-size="14.6">300</text>
<text x="140.60" y="583.90" text-anchor="middle" font-size="14.6">400</text>
<text x="178.65" y="583.90" text-anchor="middle" font-size="14.6">500</text>
<text x="216.70" y="583.90" text-anchor="middle" font-size="14.6">600</text>
<text x="254.75" y="583.90" text-anchor="middle" font-size="14.6">700</text>
<text x="292.80" y="583.90" text-anchor="middle" font-size="14.6">800</text>
<text x="52.80" y="554.40" text-anchor="end" font-size="14.6">0</text>
<text x="52.80" y="503.00" text-anchor="end" font-size="14.6">1</text>
<text x="52.80" y="451.60" text-anchor="end" font-size="14.6">2</text>
<text x="52.80" y="400.20" text-anchor="end" font-size="14.6">3</text>
<text x="52.80" y="348.80" text-anchor="end" font-size="14.6">4</text>
<text x="181.20" y="603.80" text-anchor="middle" font-size="18.6">Wavelength (nm)</text>
<text transform="translate(33.40,452.60) rotate(-90)" text-anchor="middle" font-size="18.52">Normalized Absorbance</text>
<text x="2.85" y="331.8" font-size="18.9">(C)</text>
<rect x="157.50" y="348.20" width="147.80" height="85.90" fill="#fff" stroke="#777" stroke-width="0.9"/>
<line x1="158.50" y1="356.90" x2="182.70" y2="356.90" stroke="#474747" stroke-width="1.5"/>
<text x="184.80" y="360.02" font-size="10.4">blank</text>
<line x1="210.01" y1="356.90" x2="234.21" y2="356.90" stroke="#7d4d49" stroke-width="1.5"/>
<text x="236.31" y="360.02" font-size="10.4">Fe</text>
<text x="248.45" y="355.65" font-size="6.34">2+</text>
<line x1="256.03" y1="356.90" x2="280.23" y2="356.90" stroke="#2d6fd9" stroke-width="1.5"/>
<text x="282.33" y="360.02" font-size="10.4">Zn</text>
<text x="294.47" y="355.65" font-size="6.34">2+</text>
<line x1="158.50" y1="371.10" x2="182.70" y2="371.10" stroke="#999920" stroke-width="1.5"/>
<text x="184.80" y="374.22" font-size="10.4">Fe</text>
<text x="196.94" y="369.85" font-size="6.34">3+</text>
<line x1="204.52" y1="371.10" x2="228.72" y2="371.10" stroke="#23c5cc" stroke-width="1.5"/>
<text x="230.82" y="374.22" font-size="10.4">Cu</text>
<text x="244.11" y="369.85" font-size="6.34">2+</text>
<line x1="251.70" y1="371.10" x2="275.90" y2="371.10" stroke="#e4474a" stroke-width="1.5"/>
<text x="278.00" y="374.22" font-size="10.4">Pd</text>
<text x="290.72" y="369.85" font-size="6.34">2+</text>
<line x1="158.50" y1="385.60" x2="182.70" y2="385.60" stroke="#d3a02d" stroke-width="1.5"/>
<text x="184.80" y="388.72" font-size="10.4">Cr</text>
<text x="195.77" y="384.35" font-size="6.34">3+</text>
<line x1="203.36" y1="385.60" x2="227.56" y2="385.60" stroke="#555555" stroke-width="1.5"/>
<text x="229.66" y="388.72" font-size="10.4">Ni</text>
<text x="239.48" y="384.35" font-size="6.34">2+</text>
<line x1="247.06" y1="385.60" x2="271.26" y2="385.60" stroke="#3ba96b" stroke-width="1.5"/>
<text x="273.36" y="388.72" font-size="10.4">Cd</text>
<text x="286.66" y="384.35" font-size="6.34">2+</text>
<line x1="158.50" y1="400.10" x2="182.70" y2="400.10" stroke="#72bf2b" stroke-width="1.5"/>
<text x="184.80" y="403.22" font-size="10.4">Mn</text>
<text x="199.25" y="398.85" font-size="6.34">2+</text>
<line x1="206.83" y1="400.10" x2="231.03" y2="400.10" stroke="#f17226" stroke-width="1.5"/>
<text x="233.13" y="403.22" font-size="10.4">Hg</text>
<text x="246.43" y="398.85" font-size="6.34">2+</text>
<line x1="254.01" y1="400.10" x2="278.21" y2="400.10" stroke="#2d6fd9" stroke-width="1.5"/>
<text x="280.31" y="403.22" font-size="10.4">As</text>
<text x="292.44" y="398.85" font-size="6.34">5+</text>
<line x1="158.50" y1="414.20" x2="182.70" y2="414.20" stroke="#b680e1" stroke-width="1.5"/>
<text x="184.80" y="417.32" font-size="10.4">Co</text>
<text x="198.09" y="412.95" font-size="6.34">2+</text>
<line x1="205.68" y1="414.20" x2="229.88" y2="414.20" stroke="#e4474a" stroke-width="1.5"/>
<text x="231.98" y="417.32" font-size="10.4">Al</text>
<text x="241.23" y="412.95" font-size="6.34">3+</text>
<line x1="248.81" y1="414.20" x2="273.01" y2="414.20" stroke="#6b9fd6" stroke-width="1.5"/>
<text x="275.11" y="417.32" font-size="10.4">La</text>
<text x="286.68" y="412.95" font-size="6.34">3+</text>
<g fill="none" stroke-width="1.9" stroke-linejoin="round" stroke-linecap="round"><path d="M428.8,383.2l.4 2.8 1.1-8.2 .2 0 .8 2.3 .2-.1 1.1-7.9 .2 .3 .8 3.6 .2 .2 .8-3.4 .3-.9 .6 .6 2.5 4.1 1 .9 .4-.2 .3-.6 1.6-3.3 .4-.3 .3 .1 .8 2.4 1.6 7.8 .3 1.2 .4 .5 .6-.2 1.7-3.1 .4 0 .4 .7 .8 2.4 2.1 8.4 .7 1.6 1.8 2.1 .7 2.1 2.1 14.5 .6 2.8 .4 .7 .4 0 1.7-3.5 .4-.2 .2 .1 1 2.5 2.3 8.4 .7 1.8 1.6 2.7 .7 2.2 .8 3.9 2.1 14.4 3.3 16.4 3.2 14.6 2.7 9.4 3.5 8.3 3.2 6.1 5.6 7.6 1.9 2.1 2 1.5 10.3 6.3 7.1 5 1.9 .9 3.3 1 1.4 .6 7.1 4.9 6.3 2.5 5.9 2.2 5.4 1.6 5.2 1.2 16.1 2.1 12.5 1 49.7 2 16.9 .3 15.4 .1" stroke="#f17226"/>
<path d="M428.8,373.0l.4 1.1 1.1-6.1 .2 .2 .8 4.3 .2 .3 1.1-7.5 1.2 5.6 .8-3.1 .3-.7 1.4 3.7 1.7 2.8 1 5.6 .7 1.9 1.4 2.1 .6 1.2 2.3 8.9 .7 2.3 .8 1.1 .4 .1 1.3-.2 .6 .4 .8 1.4 2.7 6.3 .5 .7 1.6 .9 .7 1.3 .8 2.8 2.3 12.6 .8 2.3 1.5 3 .8 2.5 2.5 16.3 1.3 5.7 6.6 21.7 2.1 6.2 3 7.4 1.4 2.4 1.1 1.2 .8 .3 .6 0 .6-.4 .5-.6 1.2-2.4 1.5-4.7 2.9-11.5 7.5-35 2.1-8.1 2.1-5.8 1.9-4 1.8-2.3 .9-.6 .8-.1 .6 .3 .5 .7 1.4 2.6 1.7 4.6 1.2 4.2 5 23.7 5.7 30.3 1.7 6.6 3.1 9.5 3.1 7.9 1.5 3.1 1.6 2.7 6.9 9.2 2.5 2.8 2.3 2.2 2.3 1.6 6.7 3.8 4.8 2.5 4 1.8 5.2 1.7 8.1 2.1 5.4 1.1 10.7 1.2 13.6 1.2 56.1 3.2" stroke="#999920"/>
<path d="M428.8,401.1l.4 1.9 .9-3.2 .2-.1 1.2 6.7 .2-.3 .7-5.4 .2-.4 1.2 8.7 .4-1.2 .6-4.2 .1-.4 .4 1.3 .6 5.1 1 12.3 2.7 45.8 2.8 26.9 1.4 5.5 1.3 3.8 1.6 3 7.3 10.2 4.6 7.1 3 5.3 2.1 4.3 4.3 10.8 1.9 3.9 2.3 3.5 1.1 1.3 1 .8 1 .4 .7 0 .8-.2 1-.8 1.9-2.5 2.1-4 1.3-3.3 1.2-3.5 5.7-20.5 2.4-5.8 2.6-5.5 1.6-2.4 1.3-1.4 3.7-2.7 1.1-.5 1.2-.2 1.3 .2 1.9 1.2 7.3 6.8 1.4 1 2.5 1.5 2.3 1.9 7.5 7.4 9 9.8 4.2 4 6.3 5 2.2 1.2 1.9 .8 6.7 1.3 7.1 1.1 6.1 .7 5.8 .5 49.5 1.6 16.9 .1 15.4-.2" stroke="#7d4d49"/>
<path d="M428.8,378.1l.4 3 1.1-6.5 .2 .1 .8 2.8 .2 0 1.1-6.5 1.2 5.7 .2 0 .8-2.5 .1 0 .2 .7 1.4 12 1.5 17.3 4 53.6 .6 4.8 1 3.9 3.1 8.2 2.8 9.7 2.9 6.5 12.1 21.7 6.5 10 1.4 1.7 1.3 1.2 1.2 .6 .9 .2 1-.2 .8-.5 .9-1.1 .8-1.4 1.3-3.7 1.2-4.7 1-4.9 3.2-21.2 1.6-8.8 2.1-10.4 2.5-11.1 3.8-15 2.9-9.9 3.1-8.4 .9-1.5 .8-.4 .9 .7 1.2 2.2 1.9 5.3 1.2 4.1 5 23.4 5.5 29.2 1.6 6 2.8 8.7 3.3 8 1.5 3.1 1.6 2.5 6.1 7.1 5 4.7 2.7 1.9 6 3.1 5.3 2.7 4.4 1.9 5.2 1.7 12.1 2.5 5 .6 14.4 1 62.8 3.6" stroke="#23c5cc"/>
<path d="M428.8,378.1l.4 3.2 1.1-7.2 .2 .2 .8 3.6 .2 .2 1.1-8.1 1.2 6.5 .2-.1 .8-3.6 .1 0 .2 .8 3.3 35.2 3.6 49 .6 4.8 1 3.9 3.1 8.2 2.8 9.7 2.9 6.5 12.1 21.7 6.5 10 1.4 1.7 1.3 1.2 1.2 .6 .9 .2 1-.2 .8-.5 .9-1.1 .8-1.3 1.3-3.7 1.2-4.6 1-4.9 3.2-21 1.6-8.7 2.1-10.4 2.5-10.9 3.8-14.8 2.9-9.8 3.1-8.4 .9-1.5 .8-.4 .9 .7 1.2 2.2 1.9 5.3 1.2 4.1 5 23.1 5.5 29 1.6 5.9 2.8 8.6 3.3 8 1.5 3 1.6 2.5 6.1 7.1 5 4.7 2.7 1.8 6 3.1 5.3 2.7 4.4 1.9 5.2 1.6 12.1 2.5 5 .7 14.4 1 62.8 3.5" stroke="#555555"/>
<path d="M428.8,378.1l.4 3.3 1.1-7.8 .2 .4 .8 4.6 .2 .3 1.1-8.4 1.2 6.1 .2-.1 .8-2.9 .1 0 .2 .8 1.6 14.6 1.5 17.5 3.8 51.3 .6 4.8 1 3.9 3.1 8.3 2.8 9.8 2.9 6.5 12.1 22.2 6.5 10.1 1.4 1.8 1.3 1.2 1.2 .7 .9 .2 1-.2 .8-.5 .9-1.1 .8-1.4 1.3-3.8 1.2-4.8 1-5.1 3.2-21.7 1.6-9 2.1-10.7 2.5-11.4 3.8-15.3 2.9-10.1 3.1-8.7 .9-1.6 .8-.4 .9 .8 1.2 2.2 1.9 5.4 1.2 4.2 5 23.6 5.5 29.5 1.6 6.1 2.8 8.8 3.3 8.2 1.5 3 1.6 2.6 6.1 7.2 2.7 2.7 2.3 2.1 2.7 1.9 6 3.2 5.3 2.7 4.4 1.9 5.2 1.7 12.1 2.5 5 .7 14.4 1 62.8 3.6" stroke="#474747"/>
<path d="M428.8,378.1l.4 1.9 1.1-6.2 .2 .1 .8 2.5 .2 .1 1.1-5.4 1.2 5.4 .2-.1 .8-3.2 .1-.1 .2 .8 3.3 34.9 3.6 49 .6 4.8 1 3.9 3.1 8.3 2.8 9.8 2.9 6.5 12.1 22.2 6.5 10.1 1.4 1.8 1.3 1.2 1.2 .7 .9 .2 1-.2 .8-.5 .9-1.1 .8-1.4 1.3-3.8 1.2-4.8 1-5.1 3.2-21.7 1.6-9 2.1-10.7 2.5-11.4 3.8-15.3 2.9-10.1 3.1-8.7 .9-1.6 .8-.4 .9 .8 1.2 2.2 1.9 5.4 1.2 4.2 5 23.6 5.5 29.5 1.6 6.1 2.8 8.8 3.3 8.2 1.5 3 1.6 2.6 6.1 7.2 2.7 2.7 2.3 2.1 2.7 1.9 6 3.2 5.3 2.7 4.4 1.9 5.2 1.7 12.1 2.5 5 .7 14.4 1 62.8 3.6" stroke="#d3a02d"/>
<path d="M428.8,378.1l.4 2.1 1.1-6.1 .2 .2 .8 3.1 .2 .1 1.1-5.9 1.2 4.3 .2-.1 .8-2.4 .1-.1 .2 .7 1.8 17.1 1.5 17.7 3.6 48.9 .6 4.9 1.2 4.7 2.9 8.1 3 11.2 1.9 5 2.5 5.5 6.6 13.1 3.4 6.2 6.9 10.4 1.4 1.7 1.1 1 1.2 .7 .9 .2 1-.2 1-.6 .9-1.1 .8-1.5 1.3-3.9 1.2-4.9 1-5.2 3.2-22.4 1.6-9.2 2.1-11 2.5-11.7 3.8-15.8 2.9-10.4 3.1-8.9 .9-1.7 .8-.4 .9 .7 1.2 2.3 1.9 5.4 1.2 4.2 5 23.6 5.5 29.5 1.6 6.1 2.8 8.8 3.3 8.2 1.5 3 1.6 2.6 6.1 7.2 2.7 2.7 2.3 2.1 2.7 1.9 6 3.2 5.3 2.7 4.4 1.9 5.2 1.7 12.1 2.5 5 .7 14.4 1 62.8 3.6" stroke="#b680e1"/>
<path d="M428.8,378.1l.4 1.1 1.1-6.2 .2 .1 .8 3.3 .2 .1 1.1-6.4 1.2 6.6 .2 0 .8-2.9 .1 0 .2 .7 1.6 14.5 1.5 17.5 3.8 51.3 .6 4.8 1 3.9 3.1 8.3 2.8 9.8 2.9 6.5 12.1 22.2 6.5 10.1 1.4 1.8 1.3 1.2 1.2 .7 .9 .2 1-.2 .8-.5 .9-1.2 .8-1.4 1.3-3.8 1.2-4.9 1-5.1 3.2-22.1 1.6-9.1 2.1-10.9 2.5-11.5 3.8-15.5 2.9-10.3 3.1-8.8 .9-1.6 .8-.4 .9 .7 1.2 2.3 1.9 5.4 1.2 4.3 5 23.9 5.5 29.9 1.6 6.2 2.8 8.9 3.3 8.2 1.5 3.1 1.6 2.6 6.1 7.3 2.7 2.8 2.3 2 2.7 2 6 3.2 5.3 2.7 4.4 2 5.2 1.7 12.1 2.6 5 .6 14.4 1 62.8 3.7" stroke="#e4474a"/>
<path d="M428.8,378.1l.4 3 1.1-6.9 .2 .3 .8 3.8 .2 .2 1.1-7.5 1.2 4.1 .2 0 .8-2.2 .1 0 .2 .7 3.3 35.2 3.6 49 .6 4.8 1 3.9 3.1 8.2 2.8 9.7 2.9 6.5 12.1 21.7 6.5 10 1.4 1.7 1.3 1.2 1.2 .6 .9 .2 1-.2 .8-.6 .9-1.1 .8-1.4 1.3-3.9 1.2-4.8 1-5.2 3.2-22 1.6-9.2 2.1-10.8 2.5-11.5 3.8-15.5 2.9-10.3 3.1-8.8 .9-1.6 .8-.4 .9 .7 1.2 2.3 1.9 5.5 1.2 4.2 5 24.2 5.5 30.1 1.6 6.2 2.8 9 3.3 8.3 1.5 3.2 1.6 2.5 6.1 7.4 2.7 2.8 2.3 2.1 2.7 1.9 6 3.3 5.3 2.7 4.4 2 5.2 1.7 12.1 2.6 5 .7 14.4 1 62.8 3.7" stroke="#3ba96b"/>
<path d="M428.8,378.1l.4 1.1 1.1-4.9 .2 .2 .8 3.6 .2 .3 1.1-7.1 1.2 3.2 .2 .2 .8-.4 .3 .8 1.4 11.8 1.3 14.9 4.2 56 .6 4.8 1 3.9 3.1 8.2 2.8 9.7 2.9 6.5 12.1 21.7 6.5 10 1.4 1.7 1.3 1.2 1.2 .6 .9 .2 1-.2 .8-.6 .9-1.1 .8-1.4 1.3-3.9 1.2-4.9 1-5.2 3.2-22.3 1.6-9.2 2.1-11 2.5-11.6 3.8-15.7 2.9-10.4 3.1-8.8 .9-1.7 .8-.4 .9 .8 1.2 2.3 1.9 5.5 1.2 4.3 5 24.4 5.5 30.3 1.6 6.3 2.8 9 3.3 8.4 1.5 3.2 1.6 2.6 6.1 7.4 2.7 2.8 2.3 2.1 2.7 2 6 3.2 5.3 2.9 4.4 1.9 5.2 1.8 12.1 2.6 5 .6 14.4 1.1 62.8 3.7" stroke="#e4474a"/>
<path d="M428.8,362.7l.6-3.7 .6-6.7 .3-2.6 .2 1.3 1 20.6 .2 .1 .7-2.7 .4 1.4 1 6.3 .2-.1 .8-3.3 .1-.1 .2 .3 .4 1.5 1.2 6.6 5.7 37.7 1.2 6 .9 2.3 2.2 2.1 1.5 2.6 4 7.4 1.8 4.3 .5 2 .4 2.3 2.1 17.2 2.9 11.4 8.5 26.8 1.9 5.6 1.3 3.3 1.6 3.1 1.3 2.2 1.3 1.5 1 .6 .8 0 .7-.3 1-1.1 1.9-3.9 1.9-5.7 2.7-11.2 8.7-43.5 4.6-20.7 1.5-5.9 1.2-3.5 1.1-2.2 .6-.5 .4-.1 .9 .8 1.2 2.5 1.7 5.2 1.2 4.3 5 23.5 5.5 29.5 1.4 5.5 2.8 8.9 3.3 8.3 1.5 3.1 1.6 2.6 1.3 1.8 4.8 5.5 2.7 2.7 2.5 2.3 2.7 1.9 6 3.2 5.3 2.7 4.4 1.9 5.2 1.7 12.1 2.5 5 .7 14.4 1 62.8 3.6" stroke="#6b9fd6"/>
<path d="M428.8,378.1l.2 .6 .2-.1 1.1-9.3 .2-.2 .8 1.6 .2-.2 1.1-6.9 .2-.3 .8 .4 .2-.2 1-4.7 .1-.2 .2 .3 .8 3.9 1.2 8.8 2.6 17.8 2.2 17 .9 5 1.6 4.3 4 7.7 1.7 3.7 3.3 8.3 1.3 4.7 2.1 10.2 1.2 4.5 6.3 21.3 6.2 22.5 1.9 6 1.9 5 1.5 3.2 1.4 1.7 .8 .3 .5-.1 1.2-1.3 1.3-2.9 1.6-4.9 1.7-7.6 3.8-21.4 3.3-16.2 7.5-33.5 1.5-6.2 1.4-4.3 1.1-2.3 .6-.6 .4-.1 .4 .2 .5 .7 1 2 1.9 6 1.2 4.3 5 23.4 5.7 30.2 1.7 6.8 3.3 10.4 3.1 8 2.9 5.7 6.9 9.5 2.7 3.1 2.3 2.3 2.1 1.5 7.5 4.5 4.4 2.3 3.8 1.8 5 1.7 7.5 1.9 5.4 1.1 11.7 1.5 14 1.4 27.8 1.9 27.5 1.5" stroke="#72bf2b"/>
<path d="M428.8,378.1l.4 1.4 1.1-6.8 .2 .4 .8 5.3 .2 .4 1.1-7.8 1.2 5.2 .2-.2 .8-3.1 .1 0 .2 .7 3.3 35.2 3.6 49 .6 4.8 1 3.9 3.1 8.4 2.8 9.9 2.9 6.6 9 17 3.3 5.8 6.5 10.4 1.4 1.7 1.3 1.2 1 .6 .9 .2 1-.2 .8-.5 .9-1.1 .8-1.3 1.3-3.8 1.2-4.7 1-5 3.2-21.3 1.6-8.8 2.1-10.5 2.5-11.2 3.8-15 2.9-10 3.1-8.5 .9-1.6 .8-.3 .9 .7 1.2 2.1 1.9 5.3 1.2 4.1 5 23.1 5.5 28.8 1.6 6 2.8 8.6 3.3 7.9 1.5 3 1.6 2.5 6.1 7 5 4.7 2.7 1.9 6 3.1 5.3 2.6 4.4 1.9 5.2 1.7 12.1 2.4 5 .7 14.4 1 62.8 3.5" stroke="#2d6fd9"/>
<path d="M428.8,385.8l.4 .9 1.1-4.9 .2 .3 .8 4 .2 .3 1.1-7.1 1.2 3.3 .2 0 .8-1.4 .1 0 .6 2.4 1 8.5 .9 12.4 4.3 71.8 .7 8.6 .2 .7 1 1.3 3.1 2.6 3.8 4.5 1.9 2.5 2.3 4 5.2 10.8 6.1 11 2 2.8 2.1 2.6 2.3 2.3 2.1 1.8 2.7 1.4 1.1 .2 1 0 1-.3 .9-.6 1.9-2.2 2.5-4.1 2-4.3 1.7-5 3.4-11.3 2.3-5.9 3.3-7.1 4-7.4 2-2.7 2.3-1.5 3-1.2 1.4-.2 1.5 .1 1.7 .3 1.8 .5 4.6 2.4 10 6.6 13.6 9.8 5.9 3.6 3.3 1.5 3.5 1.2 11.1 2.2 3.6 .9 3.7 1.3 4.8 2.2 6.9 3.6 7.5 4.2 15.2 10.5 4.8 3.1 3.4 1.9 7.3 3.5 7.9 3.3 6.9 2.1 11.3 2.1 4.3 .4 3.6 .2" stroke="#2d6fd9"/></g>
<path d="M428.80,342.22H678.40V560.30H428.80Z" fill="none" stroke="#000" stroke-width="1.6" stroke-linejoin="miter"/>
<path d="M428.80,560.30v7.0M448.00,560.30v3.8M467.20,560.30v7.0M486.40,560.30v3.8M505.60,560.30v7.0M524.80,560.30v3.8M544.00,560.30v7.0M563.20,560.30v3.8M582.40,560.30v7.0M601.60,560.30v3.8M620.80,560.30v7.0M640.00,560.30v3.8M659.20,560.30v7.0M678.40,560.30v3.8M428.80,547.10h-7.0M428.80,521.49h-3.8M428.80,495.88h-7.0M428.80,470.27h-3.8M428.80,444.66h-7.0M428.80,419.05h-3.8M428.80,393.44h-7.0M428.80,367.83h-3.8M428.80,342.22h-7.0" stroke="#000" stroke-width="1.6" fill="none"/>
<text x="428.80" y="583.90" text-anchor="middle" font-size="14.6">200</text>
<text x="467.20" y="583.90" text-anchor="middle" font-size="14.6">300</text>
<text x="505.60" y="583.90" text-anchor="middle" font-size="14.6">400</text>
<text x="544.00" y="583.90" text-anchor="middle" font-size="14.6">500</text>
<text x="582.40" y="583.90" text-anchor="middle" font-size="14.6">600</text>
<text x="620.80" y="583.90" text-anchor="middle" font-size="14.6">700</text>
<text x="659.20" y="583.90" text-anchor="middle" font-size="14.6">800</text>
<text x="416.20" y="551.50" text-anchor="end" font-size="14.6">0</text>
<text x="416.20" y="500.28" text-anchor="end" font-size="14.6">1</text>
<text x="416.20" y="449.06" text-anchor="end" font-size="14.6">2</text>
<text x="416.20" y="397.84" text-anchor="end" font-size="14.6">3</text>
<text x="416.20" y="346.62" text-anchor="end" font-size="14.6">4</text>
<text x="553.70" y="604.10" text-anchor="middle" font-size="18.75">Wavelength (nm)</text>
<text transform="translate(397.50,441.50) rotate(-90)" text-anchor="middle" font-size="18.68">Normalized Absorbance</text>
<text x="366.75" y="329.6" font-size="18.9">(D)</text>
<rect x="524.00" y="346.50" width="149.50" height="86.50" fill="#fff" stroke="#000" stroke-width="2.0"/>
<line x1="525.10" y1="355.20" x2="549.90" y2="355.20" stroke="#474747" stroke-width="1.5"/>
<text x="552.00" y="358.35" font-size="10.5">blank</text>
<line x1="577.45" y1="355.20" x2="602.25" y2="355.20" stroke="#7d4d49" stroke-width="1.5"/>
<text x="604.35" y="358.35" font-size="10.5">Fe</text>
<text x="616.61" y="353.94" font-size="6.41">2+</text>
<line x1="624.26" y1="355.20" x2="649.06" y2="355.20" stroke="#2d6fd9" stroke-width="1.5"/>
<text x="651.16" y="358.35" font-size="10.5">Zn</text>
<text x="663.41" y="353.94" font-size="6.41">2+</text>
<line x1="525.10" y1="369.50" x2="549.90" y2="369.50" stroke="#999920" stroke-width="1.5"/>
<text x="552.00" y="372.65" font-size="10.5">Fe</text>
<text x="564.25" y="368.24" font-size="6.41">3+</text>
<line x1="571.91" y1="369.50" x2="596.71" y2="369.50" stroke="#23c5cc" stroke-width="1.5"/>
<text x="598.81" y="372.65" font-size="10.5">Cu</text>
<text x="612.23" y="368.24" font-size="6.41">2+</text>
<line x1="619.88" y1="369.50" x2="644.68" y2="369.50" stroke="#e4474a" stroke-width="1.5"/>
<text x="646.78" y="372.65" font-size="10.5">Pd</text>
<text x="659.62" y="368.24" font-size="6.41">2+</text>
<line x1="525.10" y1="383.80" x2="549.90" y2="383.80" stroke="#d3a02d" stroke-width="1.5"/>
<text x="552.00" y="386.95" font-size="10.5">Cr</text>
<text x="563.08" y="382.54" font-size="6.41">3+</text>
<line x1="570.73" y1="383.80" x2="595.53" y2="383.80" stroke="#555555" stroke-width="1.5"/>
<text x="597.63" y="386.95" font-size="10.5">Ni</text>
<text x="607.55" y="382.54" font-size="6.41">2+</text>
<line x1="615.20" y1="383.80" x2="640.00" y2="383.80" stroke="#3ba96b" stroke-width="1.5"/>
<text x="642.10" y="386.95" font-size="10.5">Cd</text>
<text x="655.52" y="382.54" font-size="6.41">2+</text>
<line x1="525.10" y1="398.10" x2="549.90" y2="398.10" stroke="#72bf2b" stroke-width="1.5"/>
<text x="552.00" y="401.25" font-size="10.5">Mn</text>
<text x="566.59" y="396.84" font-size="6.41">2+</text>
<line x1="574.24" y1="398.10" x2="599.04" y2="398.10" stroke="#f17226" stroke-width="1.5"/>
<text x="601.14" y="401.25" font-size="10.5">Hg</text>
<text x="614.56" y="396.84" font-size="6.41">2+</text>
<line x1="622.21" y1="398.10" x2="647.01" y2="398.10" stroke="#2d6fd9" stroke-width="1.5"/>
<text x="649.11" y="401.25" font-size="10.5">As</text>
<text x="661.37" y="396.84" font-size="6.41">5+</text>
<line x1="525.10" y1="412.40" x2="549.90" y2="412.40" stroke="#b680e1" stroke-width="1.5"/>
<text x="552.00" y="415.55" font-size="10.5">Co</text>
<text x="565.42" y="411.14" font-size="6.41">2+</text>
<line x1="573.08" y1="412.40" x2="597.88" y2="412.40" stroke="#e4474a" stroke-width="1.5"/>
<text x="599.98" y="415.55" font-size="10.5">Al</text>
<text x="609.31" y="411.14" font-size="6.41">3+</text>
<line x1="616.96" y1="412.40" x2="641.76" y2="412.40" stroke="#6b9fd6" stroke-width="1.5"/>
<text x="643.86" y="415.55" font-size="10.5">La</text>
<text x="655.54" y="411.14" font-size="6.41">3+</text>
<g fill="none" stroke-width="1.9" stroke-linejoin="round" stroke-linecap="round"><path d="M63.3,708.1l.4 1.6 1.3-4.6 .4 .4 .6 1.5 .4 .3 1.3-4.8 .4 .4 .6 1.4 .2 .3 .1 0 1.4-4 1.1-.8 1.2 0 1.1 .7 1.2 1.4 2.3 6.1 .7 1.2 .4 .1 .4-.3 1.5-1.7 .4 0 .4 .5 .8 2.5 1.5 7 .8 1.9 .4 .1 .3-.5 1.4-2.7 .4-.3 .3 .3 .8 3.1 1.5 10.4 .8 3.5 .4 .7 .4 .1 1.1-.8 .6 0 .4 .4 .6 1.8 2.6 12.4 3.1 10 3.1 18.7 .7 2.2 1.6 2.1 .7 2 2.7 13.7 .6 1.5 .9 .4 .6 .9 3.3 8.8 1.5 2.9 3.1 3.9 2.7 2.3 2.4 1 6.2 1.5 2.6 1.1 13.1 8 2.5 1.7 .9 1.1 1.2 1.9 3 6.4 2.7 2.9 3.1 2.4 3.6 2.2 6.3 2.7 4.2 3 1.8 .9 7.2 1.8 8.1 2.8 9.4 2.7 5.5 1.4 4.8 1 13.8 2 11.1 1 34.9 1.8 23.9 .4" stroke="#f17226"/>
<path d="M63.3,727.8l.4 1.1 1.3-5.8 .2 0 .2 .4 .6 2.1 .2 .4 .2 .1 .9-5.3 .4-1.2 1.3 3.6 1.2-2.1 .4 .2 .4 .7 1.1 4 5.9 25.9 1.2 4.4 1.7 4.1 8.3 15.6 2.6 6.1 3.3 10.1 7.3 26 2.6 8.7 2.7 7.2 1 1.7 .9 1 .6 .2 .6-.2 .6-.6 .7-1.2 1.4-3.2 1.7-5.3 2.3-8.5 4.6-19.4 4.8-19.1 2.3-8.3 1.9-5.7 2.5-6.2 2.1-4 1.7-2.3 1.4-1.5 1.1-.8 1-.1 1.1 .6 1.2 1.4 2.8 5.6 1.4 3.9 4 13.4 5.4 12.3 7 18.8 3.1 6.9 4.6 7.7 4.8 6.5 2.9 3.3 3.8 4 5.3 4.9 2 1.3 5.3 3.2 7.5 4 5.5 2.4 6.6 2 13 3.2 23.7 4.8 18.4 4.3 12.5 2.2 10.3 1.5" stroke="#7d4d49"/>
<path d="M63.3,721.0l.4 1.6 1.3-7.5 .2 0 .2 .4 .6 1.8 .2 .3 .2 0 .9-5 .4-1.1 .4 .6 .9 3.1 .4-.5 .8-1.9 .4 .5 1.5 7.7 1.9 5.9 .8 3.1 2.3 18.9 1.5 8.7 1.2 4.9 1.5 3.8 4 7.7 5.6 12.3 3.2 9 9.8 29.8 3.3 7.5 1.1 2 1.2 1.2 .7 .3 .6-.1 .6-.4 .7-1 1.6-3 1.5-4.5 10.7-38.9 6-27.7 3.6-15 3.1-10.2 .9-2 .4-.3 .4-.1 .4 .1 .5 .7 1 2.1 1.3 4.2 1.8 6.5 2.3 12 4.4 26.5 1.5 6.6 2.7 8.7 7.4 20.4 2.7 6 2.9 4.4 11.3 14 4.6 5.1 2.5 2.4 2.3 1.8 4 2.1 5.2 2.3 5 1.9 6.1 1.7 15.7 3.1 7.3 .8 18 1.3 25.6 .9 16.3 .3" stroke="#23c5cc"/>
<path d="M63.3,721.0l.4 1.9 1.3-6.6 .2-.1 .2 .2 .6 1.5 .2 .2 .2-.1 .9-5.5 .4-1.2 .4 .8 .9 3.4 .4-.5 .8-1.9 .4 .5 1.5 7.4 1.9 5.9 .8 3.1 2.3 19.5 1.5 9.3 1.4 6 1.5 4.2 3.6 8.4 4.8 12.3 13.4 37.1 1.6 3.5 1.7 3.3 1.5 2.2 1.2 1.1 .7 .3 .8-.2 1.3-1.5 1.6-3.1 1.5-4.4 10.7-40 6-28.3 3.6-15.5 3.1-10.4 .9-2 .4-.4 .4-.1 .4 .2 .5 .7 1 2.1 1.3 4.2 1.8 6.6 2.3 12.1 4.4 26.9 1.5 6.6 2.7 8.8 7.4 20.7 2.7 6 2.9 4.5 11.3 14.2 4.6 5.1 2.5 2.4 2.3 1.8 4 2.1 5.2 2.4 5 1.9 6.1 1.7 15.7 3.1 7.3 .9 18 1.3 25.6 .9 16.3 .3" stroke="#d3a02d"/>
<path d="M63.3,721.0l.4 1.8 1.3-6.6 .2-.1 .2 .4 .6 2.1 .2 .4 .2-.2 1.1-11 .4-2 .6-2 .5-1.2 .6-.4 .6 .6 .6 3.1 1.3 15.1 .6 2.7 1.3 3 .6 2.2 2.5 20.6 1.5 9.3 1.4 6 1.5 4.2 3.6 8.4 4.8 12.3 13.4 37.1 1.6 3.5 1.7 3.3 1.5 2.2 1.2 1.1 .7 .3 .8-.2 1.3-1.5 1.6-3.1 1.5-4.4 10.7-40 6-28.3 3.6-15.5 3.1-10.4 .9-2 .4-.4 .4-.1 .4 .2 .5 .7 1 2.1 1.3 4.2 1.8 6.6 2.3 12.1 4.4 26.9 1.5 6.6 2.7 8.8 7.4 20.7 2.7 6 2.9 4.5 11.3 14.2 4.6 5.1 2.5 2.4 2.3 1.8 4 2.1 5.2 2.4 5 1.9 6.1 1.7 15.7 3.1 7.3 .9 18 1.3 25.6 .9 16.3 .3" stroke="#6b9fd6"/>
<path d="M63.3,721.0l.2 .6 .2 0 .2-.6 1.1-5.9 .2 0 .2 .4 .6 2 .2 .4 .2 .1 .9-4.8 .4-1.1 .4 .6 .9 2.5 .4-.5 .8-1.9 .2 0 .2 .3 1.5 7.9 1.9 5.9 .8 3.1 2.3 19.5 1.5 9.3 1.4 6 1.5 4.2 3.6 8.4 4.8 12.3 13.4 37.1 1.6 3.5 1.7 3.3 1.5 2.2 1.2 1.1 .7 .3 .8-.2 1.3-1.5 1.6-3.1 1.5-4.6 10.7-40.5 6-28.8 3.6-15.7 3.1-10.5 .9-2.1 .4-.4 .4 0 .4 .1 .5 .7 1 2.1 1.3 4.3 1.8 6.7 2.3 12.3 4.4 27.1 1.5 6.7 2.7 8.9 7.4 20.9 2.7 6.1 2.9 4.6 11.3 14.3 4.6 5.1 2.5 2.5 2.3 1.8 4 2.2 5.2 2.4 5 1.9 6.1 1.8 15.7 3.1 7.3 .8 18 1.4 25.6 .9 16.3 .3" stroke="#3ba96b"/>
<path d="M63.3,721.0l.2 .8 .2 .1 .2-.7 1.1-6.3 .2 0 .2 .4 .6 1.9 .2 .4 .2 0 .9-4.6 .4-1 .4 .7 .6 2.4 .3 .9 .4-.7 .8-2.9 .2 0 .2 .4 1.5 8.2 1.9 5.8 .8 3.2 2.3 19.5 1.5 9.3 1.4 6 1.5 4.2 3.6 8.4 4.8 12.3 13.4 37.1 1.6 3.5 1.7 3.3 1.5 2.2 1.2 1.1 .7 .3 .8-.2 1.3-1.5 1.6-3.2 1.5-4.6 10.7-40.9 6-29 3.6-15.9 3.1-10.6 .9-2.1 .4-.4 .4-.1 .4 .2 .5 .7 1 2.1 1.3 4.4 1.8 6.6 2.3 12.4 4.4 27.4 1.5 6.7 2.7 9 7.4 21.1 2.7 6.1 2.9 4.6 11.3 14.4 4.6 5.2 2.5 2.5 2.3 1.8 4 2.2 5.2 2.4 5 1.9 6.1 1.8 15.7 3.2 7.3 .8 18 1.4 25.6 .9 16.3 .3" stroke="#e4474a"/>
<path d="M63.3,721.0l.4 1 1.3-6 .2-.1 .2 .2 .6 1.4 .2 .3 .2-.1 .9-5.3 .4-1.2 .4 .8 .9 3.8 .4-.3 .8-1.6 .4 .5 1.5 6.6 1.9 5.9 .8 3.1 2.3 18.6 1.5 8.4 1.2 4.6 1.7 3.8 3.4 5.9 3.5 6.5 2.9 6.2 3.4 10.1 7.1 23.8 2.5 7.7 3 7.8 1.2 2.1 1.1 1.3 .6 .3 .6-.1 .6-.4 .7-1 1.6-3.3 1.5-4.7 10.7-41.2 6-29.2 3.6-16 3.1-10.8 .9-2 .4-.4 .4-.1 .4 .2 .5 .7 1 2.1 1.3 4.4 1.8 6.7 2.3 12.4 4.4 27.6 1.5 6.8 2.7 9 7.4 21.2 2.7 6.2 2.9 4.6 11.3 14.5 4.6 5.2 2.5 2.5 2.3 1.8 4 2.2 5.2 2.4 5 2 6.1 1.8 15.7 3.1 7.3 .9 18 1.4 25.6 .9 16.3 .3" stroke="#e4474a"/>
<path d="M63.3,718.4l.4 1.9 1.3-7.6 .2 0 .2 .2 .6 1.3 .2 .2 .2-.1 .9-3.8 .4-.9 .4 .5 .6 1.6 .3 .5 1.2-2.6 .4-.4 .4 0 .7 1 .8 1.9 .4 1.1 .4 2.9 .1 .3 .2 .2 .4-.1 1.6-2.1 .3-.1 .2 .1 .8 1.8 1.7 5.9 .8 1.9 .4 .4 .4 .1 1.5-.7 .4 .2 .3 .5 1 2.6 2.1 7.8 3.1 8.9 3 13.6 .8 2 1.9 3.8 1.6 4.1 8.2 26 2.3 6.1 2.5 5.6 1.9 3.4 1.7 1.9 .8 .4 .9 0 .8-.4 1-.8 1.7-2.6 1.5-3.8 1.6-5.2 3.4-13.3 8.4-34.4 3.9-14.5 1.1-3.7 1-2.3 .7-1.1 .8-.2 .9 1 1 2 2.3 7.3 1.7 8 6 31.2 3.2 14.6 2.9 10.9 3.1 9.5 2.3 6.6 1.7 4.1 1.5 3.1 5.8 8.5 6.3 7.8 8.6 9 2.5 1.9 3.8 2.1 5.6 2.7 5.1 2.1 5.8 1.7 14.7 2.9 6.7 .8 19.2 1.4 25.8 .9 16.5 .3" stroke="#999920"/>
<path d="M63.3,713.2l.4 2 1.3-7.8 .4 .5 .6 2.4 .2 .5 .2 0 .9-5.2 .4-1.3 .4 .6 .6 1.7 .3 .5 1.2-3 .2-.1 .4 .7 2.1 8.5 6.9 24.8 1.5 4.1 3.4 7.3 1.8 5.1 4.2 15.6 9.9 33.9 5.2 18.9 2.1 5.7 1 1.7 .7 .8 .8 .3 .8-.2 .7-.7 .8-1 1.7-3.6 1.8-5.1 1.7-6.7 6.5-28.4 6.9-32 4-17.1 1.5-5.6 1.4-3.9 1.1-2.2 .4-.4 .6-.2 .9 .7 1.2 2.2 1.1 3.3 1.4 5.1 1.3 7.5 5.2 34 .9 5.3 1.4 5.8 3.2 11.7 6.4 18.8 1.7 4.4 1.5 3.2 2.5 4.1 2.9 4.1 3 4.1 3.1 3.6 9 9.4 2.5 2.1 3.1 1.7 6.1 3 5.4 2.2 5.9 1.8 14.5 2.9 6.9 .9 19.2 1.4 25.8 .9 16.7 .3" stroke="#72bf2b"/>
<path d="M63.3,715.8l.4 2 1.3-7.6 .2 .1 .2 .5 .6 2.4 .2 .5 .2 0 .9-5.7 .4-1.3 .4 .8 .6 2.5 .3 .8 1.2-3.4 .2-.1 .4 .6 .7 2.4 9 35.3 1.8 5.9 2.1 6.2 7.6 19.4 9 20.4 5.2 14.3 2.1 3.9 1.3 1.6 1.2 1 .9 .4 1 .1 1-.4 .9-.9 1-1.3 .9-1.9 1.8-4.9 6.9-27.8 3.2-13.9 9.2-46.2 1.3-4.7 .6-1.1 .6-.3 .8 .8 .9 2.3 2.3 9.6 1.7 10.6 6.4 45.1 2.3 10.3 2.8 9.7 6 16.5 1.9 4.5 1.7 3.3 4 5.9 4.2 5.4 4.1 4.6 7 7.4 2.1 2 2 1.3 6.3 3.1 5.9 2.4 7.1 2.1 14.9 3 6.9 .9 19.2 1.4 25.8 .9 16.7 .3" stroke="#b680e1"/>
<path d="M63.3,721.0l.4 1.3 1.3-6.4 .2 0 .2 .4 .6 1.8 .2 .3 .2 0 .9-5.2 .4-1.2 .4 .5 .9 2.1 1.2-1.9 .4 .4 1.5 7.9 1.9 5.9 .8 3.1 2.3 19.6 1.5 9.3 1.4 6 1.5 4.3 3.6 8.5 4.8 12.4 13.4 37.5 1.6 3.6 1.7 3.3 1.5 2.3 1.2 1.1 .7 .3 .6-.1 .6-.3 .7-.8 1.6-2.9 1.7-4.7 10.7-38.4 6-27.2 3.6-14.9 3.1-10 .9-2 .4-.3 .4-.1 .4 .2 .5 .6 1 2 1.3 4.1 1.8 6.3 2.3 11.7 4.4 25.9 1.5 6.4 2.7 8.4 7.4 19.9 2.7 5.8 2.9 4.3 11.3 13.7 4.6 4.9 2.5 2.3 2.3 1.7 4 2.1 5.2 2.3 5 1.8 6.1 1.7 15.7 3 7.3 .8 18 1.2 25.6 .9 16.3 .3" stroke="#474747"/>
<path d="M63.3,721.0l.2 .7 .2 .1 .2-.6 1.1-5.2 .2-.1 .2 .3 .6 1.3 .2 .3 .2-.1 .9-4.1 .4-1 .4 .6 .9 2.8 .4-.7 .8-2.5 .2-.1 .2 .4 1.5 7.9 1.9 5.9 .8 3.1 2.3 19.6 1.5 9.3 1.4 6.1 1.5 4.3 3.6 8.5 4.8 12.6 13.4 37.7 1.6 3.5 1.7 3.4 1.5 2.3 1.2 1.1 .7 .3 .6-.1 .6-.3 .7-.8 1.6-2.9 1.7-4.7 10.7-38.7 6-27.3 3.6-14.9 3.1-10.1 .9-2 .4-.3 .4-.1 .4 .2 .5 .6 1 2 1.3 4.1 1.8 6.3 2.3 11.7 4.4 25.9 1.5 6.4 2.7 8.4 7.4 19.9 2.7 5.8 2.9 4.3 11.3 13.7 4.6 4.9 2.5 2.3 2.3 1.7 4 2.1 5.2 2.3 5 1.8 6.1 1.7 15.7 3 7.3 .8 18 1.2 25.6 .9 16.3 .3" stroke="#555555"/>
<path d="M63.3,721.0l.2 .6 .2 .1 .2-.6 1.1-5.4 .2 0 .2 .4 .6 2.1 .2 .4 .2 .1 .9-5.7 .4-1.3 .4 .8 .6 2.7 .3 .9 .4-.7 .8-2.5 .2 0 .2 .4 1.5 7.7 1.9 5.9 .8 3.1 2.3 19.6 1.5 9.3 1.4 6 1.5 4.3 3.6 8.5 4.8 12.4 13.4 37.5 1.6 3.6 1.7 3.3 1.5 2.3 1.2 1.1 .7 .3 .6-.1 .6-.3 .7-.9 1.6-2.9 1.7-4.9 10.7-39.4 6-27.8 3.6-15.3 3.1-10.3 .9-1.9 .4-.4 .4-.1 .4 .2 .5 .7 1 2 1.3 4.2 1.8 6.4 2.3 11.9 4.4 26.4 1.5 6.5 2.7 8.6 7.4 20.3 2.7 5.9 2.9 4.4 11.3 13.9 4.6 5 2.5 2.4 2.3 1.8 4 2 5.2 2.4 5 1.9 6.1 1.7 15.7 3 7.3 .8 18 1.3 25.6 .9 16.3 .3" stroke="#2d6fd9"/>
<path d="M63.3,723.6l.4 2.2 1.3-7.6 .2 0 .2 .2 .6 1.5 .2 .2 .2-.1 .9-4.9 .4-1.1 .4 .9 .6 2.8 .3 1 .4-.8 .8-3.1 .2 0 .2 .4 1.5 8.4 1.9 6.9 .8 3.5 2.3 18.1 1.5 8.2 1.4 5.3 1.5 4 3.8 8.5 3.5 8.9 14.7 40.6 1.7 3.9 1.8 3.4 1.3 2 1.2 1.1 .7 .2 .8-.2 .7-.6 1-1.4 2.3-5.3 2.1-6.5 20.9-85 4-19.2 1.3-4.4 .6-1.1 .4-.1 .6 .4 .7 1.7 2.3 8.7 6.9 36.4 2.5 12.1 3.3 13.9 4 14.1 2.1 6 2.5 4.9 5.7 7.6 4.3 5 3.6 3.2 6.1 3.6 2.9 2.2 3.8 3.5 9.4 9 4.8 4.1 5.9 4.1 4.8 3 4 2.2 3.9 1.7 2.8 1 8.7 2.2 5.1 1 4.8 .7 25.5 1.8 9.4 .3 8.4 0" stroke="#2d6fd9"/></g>
<path d="M63.30,661.40H312.25V879.40H63.30Z" fill="none" stroke="#000" stroke-width="1.6" stroke-linejoin="miter"/>
<path d="M63.30,879.40v7.0M82.45,879.40v3.8M101.60,879.40v7.0M120.75,879.40v3.8M139.90,879.40v7.0M159.05,879.40v3.8M178.20,879.40v7.0M197.35,879.40v3.8M216.50,879.40v7.0M235.65,879.40v3.8M254.80,879.40v7.0M273.95,879.40v3.8M293.10,879.40v7.0M312.25,879.40v3.8M63.30,868.80h-7.0M63.30,842.88h-3.8M63.30,816.95h-7.0M63.30,791.02h-3.8M63.30,765.10h-7.0M63.30,739.17h-3.8M63.30,713.25h-7.0M63.30,687.32h-3.8M63.30,661.40h-7.0" stroke="#000" stroke-width="1.6" fill="none"/>
<text x="63.30" y="903.00" text-anchor="middle" font-size="14.6">200</text>
<text x="101.60" y="903.00" text-anchor="middle" font-size="14.6">300</text>
<text x="139.90" y="903.00" text-anchor="middle" font-size="14.6">400</text>
<text x="178.20" y="903.00" text-anchor="middle" font-size="14.6">500</text>
<text x="216.50" y="903.00" text-anchor="middle" font-size="14.6">600</text>
<text x="254.80" y="903.00" text-anchor="middle" font-size="14.6">700</text>
<text x="293.10" y="903.00" text-anchor="middle" font-size="14.6">800</text>
<text x="51.60" y="873.20" text-anchor="end" font-size="14.6">0</text>
<text x="51.60" y="821.35" text-anchor="end" font-size="14.6">1</text>
<text x="51.60" y="769.50" text-anchor="end" font-size="14.6">2</text>
<text x="51.60" y="717.65" text-anchor="end" font-size="14.6">3</text>
<text x="51.60" y="665.80" text-anchor="end" font-size="14.6">4</text>
<text x="195.00" y="925.30" text-anchor="middle" font-size="18.8">Wavelength (nm)</text>
<text transform="translate(29.90,770.70) rotate(-90)" text-anchor="middle" font-size="18.72">Normalized Absorbance</text>
<text x="4.15" y="645.7" font-size="18.9">(E)</text>
<rect x="178.30" y="665.50" width="130.30" height="64.10" fill="#fff" stroke="#777" stroke-width="0.9"/>
<line x1="179.20" y1="672.70" x2="200.70" y2="672.70" stroke="#474747" stroke-width="1.5"/>
<text x="202.80" y="675.49" font-size="9.3">blank</text>
<line x1="225.38" y1="672.70" x2="246.88" y2="672.70" stroke="#7d4d49" stroke-width="1.5"/>
<text x="248.98" y="675.49" font-size="9.3">Fe</text>
<text x="259.84" y="671.58" font-size="5.67">2+</text>
<line x1="266.65" y1="672.70" x2="288.15" y2="672.70" stroke="#2d6fd9" stroke-width="1.5"/>
<text x="290.25" y="675.49" font-size="9.3">Zn</text>
<text x="301.11" y="671.58" font-size="5.67">2+</text>
<line x1="179.20" y1="685.30" x2="200.70" y2="685.30" stroke="#999920" stroke-width="1.5"/>
<text x="202.80" y="688.09" font-size="9.3">Fe</text>
<text x="213.65" y="684.18" font-size="5.67">3+</text>
<line x1="220.47" y1="685.30" x2="241.97" y2="685.30" stroke="#23c5cc" stroke-width="1.5"/>
<text x="244.07" y="688.09" font-size="9.3">Cu</text>
<text x="255.96" y="684.18" font-size="5.67">2+</text>
<line x1="262.78" y1="685.30" x2="284.28" y2="685.30" stroke="#e4474a" stroke-width="1.5"/>
<text x="286.38" y="688.09" font-size="9.3">Pd</text>
<text x="297.75" y="684.18" font-size="5.67">2+</text>
<line x1="179.20" y1="697.90" x2="200.70" y2="697.90" stroke="#d3a02d" stroke-width="1.5"/>
<text x="202.80" y="700.69" font-size="9.3">Cr</text>
<text x="212.61" y="696.78" font-size="5.67">3+</text>
<line x1="219.43" y1="697.90" x2="240.93" y2="697.90" stroke="#555555" stroke-width="1.5"/>
<text x="243.03" y="700.69" font-size="9.3">Ni</text>
<text x="251.81" y="696.78" font-size="5.67">2+</text>
<line x1="258.63" y1="697.90" x2="280.13" y2="697.90" stroke="#3ba96b" stroke-width="1.5"/>
<text x="282.23" y="700.69" font-size="9.3">Cd</text>
<text x="294.12" y="696.78" font-size="5.67">2+</text>
<line x1="179.20" y1="710.50" x2="200.70" y2="710.50" stroke="#72bf2b" stroke-width="1.5"/>
<text x="202.80" y="713.29" font-size="9.3">Mn</text>
<text x="215.72" y="709.38" font-size="5.67">2+</text>
<line x1="222.54" y1="710.50" x2="244.04" y2="710.50" stroke="#f17226" stroke-width="1.5"/>
<text x="246.14" y="713.29" font-size="9.3">Hg</text>
<text x="258.03" y="709.38" font-size="5.67">2+</text>
<line x1="264.84" y1="710.50" x2="286.34" y2="710.50" stroke="#2d6fd9" stroke-width="1.5"/>
<text x="288.44" y="713.29" font-size="9.3">As</text>
<text x="299.30" y="709.38" font-size="5.67">5+</text>
<line x1="179.20" y1="723.10" x2="200.70" y2="723.10" stroke="#b680e1" stroke-width="1.5"/>
<text x="202.80" y="725.89" font-size="9.3">Co</text>
<text x="214.69" y="721.98" font-size="5.67">2+</text>
<line x1="221.51" y1="723.10" x2="243.01" y2="723.10" stroke="#e4474a" stroke-width="1.5"/>
<text x="245.11" y="725.89" font-size="9.3">Al</text>
<text x="253.38" y="721.98" font-size="5.67">3+</text>
<line x1="260.19" y1="723.10" x2="281.69" y2="723.10" stroke="#6b9fd6" stroke-width="1.5"/>
<text x="283.79" y="725.89" font-size="9.3">La</text>
<text x="294.14" y="721.98" font-size="5.67">3+</text>
<rect x="454.11" y="780.50" width="4.5" height="98.90" fill="#0000a0"/>
<rect x="459.76" y="800.87" width="4.5" height="78.53" fill="#ff8000"/>
<rect x="465.41" y="864.76" width="4.5" height="14.64" fill="#660080"/>
<rect x="469.72" y="876.63" width="4.5" height="2.77" fill="#0000a0"/>
<rect x="475.37" y="874.85" width="4.5" height="4.55" fill="#ff8000"/>
<rect x="481.02" y="875.05" width="4.5" height="4.35" fill="#660080"/>
<rect x="485.33" y="860.02" width="4.5" height="19.38" fill="#0000a0"/>
<rect x="490.98" y="870.89" width="4.5" height="8.51" fill="#ff8000"/>
<rect x="496.62" y="864.96" width="4.5" height="14.44" fill="#660080"/>
<rect x="500.93" y="873.66" width="4.5" height="5.74" fill="#0000a0"/>
<rect x="506.58" y="871.88" width="4.5" height="7.52" fill="#ff8000"/>
<rect x="512.23" y="869.91" width="4.5" height="9.49" fill="#660080"/>
<rect x="516.54" y="873.66" width="4.5" height="5.74" fill="#0000a0"/>
<rect x="522.19" y="866.74" width="4.5" height="12.66" fill="#ff8000"/>
<rect x="527.84" y="867.93" width="4.5" height="11.47" fill="#660080"/>
<rect x="532.14" y="878.02" width="4.5" height="1.38" fill="#0000a0"/>
<rect x="537.79" y="871.49" width="4.5" height="7.91" fill="#ff8000"/>
<rect x="543.44" y="870.89" width="4.5" height="8.51" fill="#660080"/>
<rect x="547.75" y="868.52" width="4.5" height="10.88" fill="#0000a0"/>
<rect x="553.40" y="867.33" width="4.5" height="12.07" fill="#ff8000"/>
<rect x="559.05" y="868.92" width="4.5" height="10.48" fill="#660080"/>
<rect x="563.36" y="870.30" width="4.5" height="9.10" fill="#0000a0"/>
<rect x="569.01" y="863.77" width="4.5" height="15.63" fill="#ff8000"/>
<rect x="574.66" y="867.33" width="4.5" height="12.07" fill="#660080"/>
<rect x="578.96" y="854.48" width="4.5" height="24.92" fill="#0000a0"/>
<rect x="584.61" y="856.26" width="4.5" height="23.14" fill="#ff8000"/>
<rect x="590.26" y="863.77" width="4.5" height="15.63" fill="#660080"/>
<rect x="594.57" y="681.60" width="4.5" height="197.80" fill="#0000a0"/>
<rect x="600.22" y="681.60" width="4.5" height="197.80" fill="#ff8000"/>
<rect x="605.87" y="681.60" width="4.5" height="197.80" fill="#660080"/>
<rect x="610.18" y="819.27" width="4.5" height="60.13" fill="#0000a0"/>
<rect x="615.83" y="806.41" width="4.5" height="72.99" fill="#ff8000"/>
<rect x="621.48" y="847.75" width="4.5" height="31.65" fill="#660080"/>
<rect x="625.78" y="858.63" width="4.5" height="20.77" fill="#0000a0"/>
<rect x="631.43" y="875.84" width="4.5" height="3.56" fill="#ff8000"/>
<rect x="637.08" y="849.53" width="4.5" height="29.87" fill="#660080"/>
<rect x="641.39" y="863.77" width="4.5" height="15.63" fill="#0000a0"/>
<rect x="652.69" y="852.30" width="4.5" height="27.10" fill="#660080"/>
<rect x="656.99" y="856.06" width="4.5" height="23.34" fill="#0000a0"/>
<rect x="662.64" y="875.25" width="4.5" height="4.15" fill="#ff8000"/>
<rect x="668.29" y="854.28" width="4.5" height="25.12" fill="#660080"/>
<path d="M430.80,661.82H680.50V879.40H430.80Z" fill="none" stroke="#000" stroke-width="1.6"/>
<path d="M430.80,879.40v7M438.60,879.40v3.8M446.41,879.40v7M454.21,879.40v3.8M462.01,879.40v7M469.82,879.40v3.8M477.62,879.40v7M485.42,879.40v3.8M493.23,879.40v7M501.03,879.40v3.8M508.83,879.40v7M516.63,879.40v3.8M524.44,879.40v7M532.24,879.40v3.8M540.04,879.40v7M547.85,879.40v3.8M555.65,879.40v7M563.45,879.40v3.8M571.26,879.40v7M579.06,879.40v3.8M586.86,879.40v7M594.67,879.40v3.8M602.47,879.40v7M610.27,879.40v3.8M618.08,879.40v7M625.88,879.40v3.8M633.68,879.40v7M641.48,879.40v3.8M649.29,879.40v7M657.09,879.40v3.8M664.89,879.40v7M672.70,879.40v3.8M680.50,879.40v7M430.80,879.40h-7M430.80,859.62h-3.8M430.80,839.84h-7M430.80,820.06h-3.8M430.80,800.28h-7M430.80,780.50h-3.8M430.80,760.72h-7M430.80,740.94h-3.8M430.80,721.16h-7M430.80,701.38h-3.8M430.80,681.60h-7M430.80,661.82h-3.8" stroke="#000" stroke-width="1.6" fill="none"/>
<text x="418.70" y="883.90" text-anchor="end" font-size="14.4">0.0</text>
<text x="418.70" y="844.34" text-anchor="end" font-size="14.4">0.2</text>
<text x="418.70" y="804.78" text-anchor="end" font-size="14.4">0.4</text>
<text x="418.70" y="765.22" text-anchor="end" font-size="14.4">0.6</text>
<text x="418.70" y="725.66" text-anchor="end" font-size="14.4">0.8</text>
<text x="418.70" y="686.10" text-anchor="end" font-size="14.4">1.0</text>
<text transform="translate(390.0,771.15) rotate(-90)" text-anchor="middle" font-size="18.5">&#916; Absorbance</text>
<text transform="translate(450.11,891.3) rotate(-90)" text-anchor="end" font-size="11.6" font-weight="bold">blank</text>
<text transform="translate(465.71,891.3) rotate(-90)" text-anchor="end" font-size="11.6" font-weight="bold">Fe<tspan font-size="8.0" dy="-5.0">2+</tspan></text>
<text transform="translate(481.32,891.3) rotate(-90)" text-anchor="end" font-size="11.6" font-weight="bold">zn<tspan font-size="8.0" dy="-5.0">2+</tspan></text>
<text transform="translate(496.93,891.3) rotate(-90)" text-anchor="end" font-size="11.6" font-weight="bold">Fe<tspan font-size="8.0" dy="-5.0">3+</tspan></text>
<text transform="translate(512.53,891.3) rotate(-90)" text-anchor="end" font-size="11.6" font-weight="bold">Cu<tspan font-size="8.0" dy="-5.0">2+</tspan></text>
<text transform="translate(528.14,891.3) rotate(-90)" text-anchor="end" font-size="11.6" font-weight="bold">Pd<tspan font-size="8.0" dy="-5.0">2+</tspan></text>
<text transform="translate(543.74,891.3) rotate(-90)" text-anchor="end" font-size="11.6" font-weight="bold">Cr<tspan font-size="8.0" dy="-5.0">3+</tspan></text>
<text transform="translate(559.35,891.3) rotate(-90)" text-anchor="end" font-size="11.6" font-weight="bold">Ni<tspan font-size="8.0" dy="-5.0">2+</tspan></text>
<text transform="translate(574.96,891.3) rotate(-90)" text-anchor="end" font-size="11.6" font-weight="bold">Cd<tspan font-size="8.0" dy="-5.0">2+</tspan></text>
<text transform="translate(590.56,891.3) rotate(-90)" text-anchor="end" font-size="11.6" font-weight="bold">Mn<tspan font-size="8.0" dy="-5.0">2+</tspan></text>
<text transform="translate(606.17,891.3) rotate(-90)" text-anchor="end" font-size="11.6" font-weight="bold">Hg<tspan font-size="8.0" dy="-5.0">2+</tspan></text>
<text transform="translate(621.78,891.3) rotate(-90)" text-anchor="end" font-size="11.6" font-weight="bold">As<tspan font-size="8.0" dy="-5.0">5+</tspan></text>
<text transform="translate(637.38,891.3) rotate(-90)" text-anchor="end" font-size="11.6" font-weight="bold">Co<tspan font-size="8.0" dy="-5.0">2+</tspan></text>
<text transform="translate(652.99,891.3) rotate(-90)" text-anchor="end" font-size="11.6" font-weight="bold">Al<tspan font-size="8.0" dy="-5.0">3+</tspan></text>
<text transform="translate(668.59,891.3) rotate(-90)" text-anchor="end" font-size="11.6" font-weight="bold">La<tspan font-size="8.0" dy="-5.0">3+</tspan></text>
<rect x="679.60" y="891.2" width="1.8" height="2.9" fill="#000"/><rect x="679.60" y="895.2" width="1.8" height="2.9" fill="#000"/>
<rect x="435.4" y="668.9" width="148.0" height="42.9" fill="#fff" stroke="#888" stroke-width="0.9"/>
<rect x="437.6" y="669.90" width="25.1" height="12.3" fill="#0000a0"/>
<text x="465.7" y="680.50" font-size="11.5">Q-TEPA(1mM)-AgNPs</text>
<rect x="437.6" y="684.00" width="25.1" height="12.3" fill="#ff8000"/>
<text x="465.7" y="694.60" font-size="11.5">Q-TEPA(2mM)-AgNPs</text>
<rect x="437.6" y="698.10" width="25.1" height="12.3" fill="#660080"/>
<text x="465.7" y="708.70" font-size="11.5">Q-TEPA(4mM)-AgNPs</text>
<text x="372.55" y="649.5" font-size="18.9">(F)</text>
</svg></body></html>
